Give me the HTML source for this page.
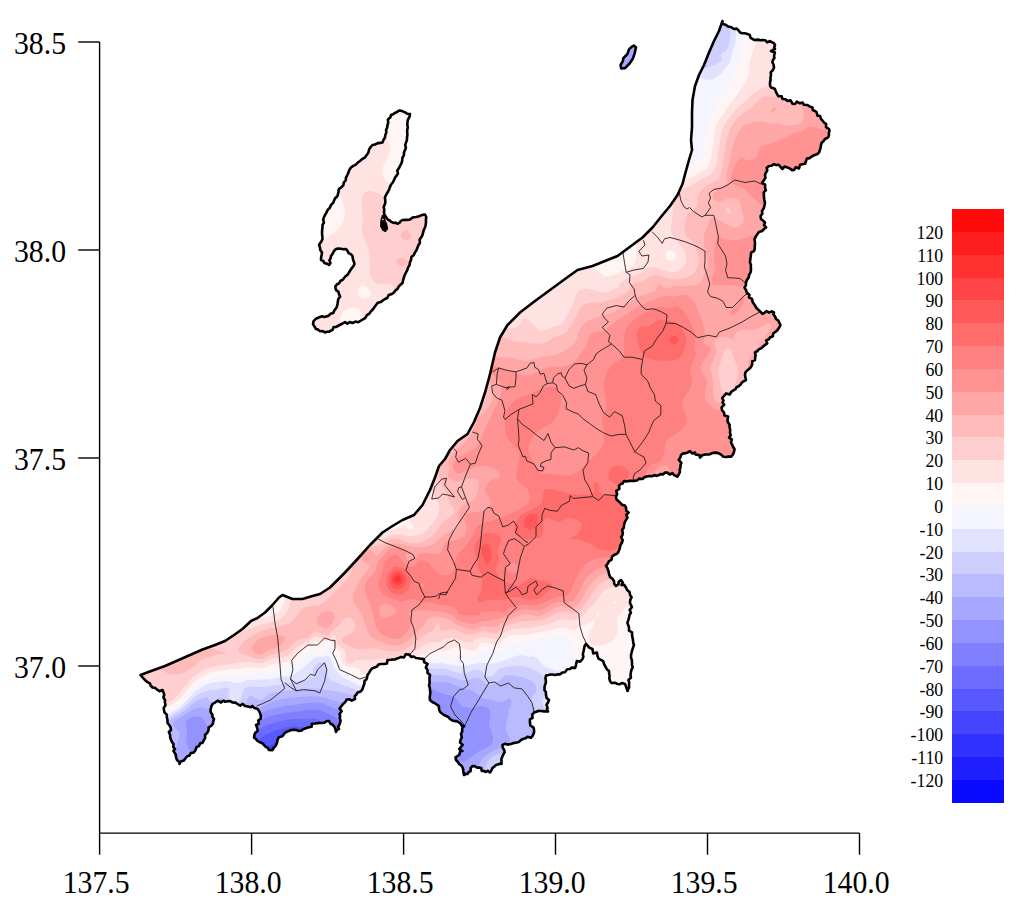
<!DOCTYPE html>
<html lang="en"><head><meta charset="utf-8"><title>Map</title>
<style>html,body{margin:0;padding:0;background:#fff}svg{display:block}text{font-family:"Liberation Serif","Times New Roman",serif;fill:#000}</style></head><body>
<svg width="1024" height="909" viewBox="0 0 1024 909">
<rect width="1024" height="909" fill="#fff"/>
<defs><clipPath id="land">
<path d="M722.5,21.0 L722.3,23.5 L726.0,25.0 L728.3,26.6 L731.4,27.3 L734.0,29.0 L736.8,28.6 L739.4,31.3 L740.0,32.5 L742.3,33.2 L744.8,33.2 L747.5,34.0 L749.7,34.9 L750.5,37.6 L752.5,39.0 L754.8,40.1 L758.1,39.6 L759.8,40.2 L762.5,40.0 L765.2,40.2 L767.2,42.4 L770.0,41.0 L772.1,42.4 L773.7,43.0 L775.0,45.0 L774.2,47.2 L775.0,49.0 L772.7,50.0 L771.0,51.0 L774.9,52.5 L774.0,56.0 L774.5,57.8 L772.7,60.5 L772.5,62.5 L773.5,64.5 L774.0,67.5 L773.0,70.0 L770.7,72.3 L771.0,75.0 L770.4,77.9 L770.6,79.7 L770.0,82.5 L770.0,85.3 L771.0,87.5 L772.8,88.0 L775.0,89.0 L775.5,90.7 L777.0,94.0 L778.5,96.2 L781.7,96.3 L782.5,99.0 L785.6,99.3 L787.5,101.0 L790.4,100.2 L792.6,103.7 L795.0,104.0 L796.9,101.6 L799.8,103.3 L802.5,102.5 L804.0,104.8 L807.5,105.0 L809.5,106.4 L812.5,107.5 L812.7,110.0 L815.0,111.0 L816.5,112.0 L817.5,115.6 L820.0,116.0 L821.0,118.9 L822.3,120.3 L824.0,122.5 L826.1,124.0 L826.0,127.2 L829.0,129.0 L829.5,130.9 L828.8,133.2 L829.0,135.0 L828.2,137.4 L825.0,139.0 L823.4,141.4 L821.7,142.7 L821.0,145.0 L820.6,147.7 L819.8,150.3 L819.0,152.5 L817.1,154.3 L814.5,155.0 L812.5,156.0 L809.5,158.1 L806.9,158.6 L806.0,161.0 L805.1,163.8 L802.1,164.2 L800.0,165.0 L799.0,168.5 L795.7,167.3 L794.0,170.0 L791.8,170.1 L789.5,168.2 L787.5,167.5 L784.5,166.5 L782.5,169.0 L780.6,167.0 L778.8,164.8 L776.0,165.0 L773.9,164.1 L771.6,165.8 L769.0,166.0 L766.7,167.8 L767.3,170.3 L766.0,172.5 L765.0,174.6 L765.4,177.9 L764.0,180.0 L762.1,182.7 L765.1,184.5 L765.0,187.5 L765.9,190.3 L763.7,192.4 L763.9,195.0 L764.0,197.5 L764.3,199.7 L765.0,203.0 L764.4,205.8 L763.7,208.4 L762.0,211.0 L762.4,213.6 L760.6,216.1 L761.0,219.0 L763.3,220.8 L765.0,222.5 L764.0,225.2 L766.1,227.4 L764.0,229.0 L762.1,231.0 L758.9,232.0 L757.5,234.0 L755.8,236.6 L754.5,239.2 L755.0,242.5 L754.8,245.6 L754.7,249.0 L754.0,251.0 L751.3,252.4 L751.0,254.0 L750.7,256.7 L750.2,259.9 L750.0,262.5 L750.9,264.7 L750.8,267.4 L751.0,269.0 L750.8,271.5 L750.3,272.9 L749.0,275.0 L748.8,277.3 L746.7,280.3 L746.0,282.5 L745.9,285.2 L744.5,287.6 L746.0,290.0 L746.8,292.5 L749.4,294.7 L749.0,297.5 L752.1,298.9 L752.6,302.1 L754.0,304.0 L755.0,305.4 L756.0,307.4 L757.5,309.0 L759.3,310.6 L760.9,312.2 L762.5,314.0 L764.4,312.8 L766.3,311.1 L769.0,312.5 L771.9,311.4 L774.0,312.5 L773.4,314.3 L775.2,316.8 L776.0,319.0 L778.4,320.6 L779.0,322.2 L780.5,325.0 L779.2,327.6 L777.5,330.0 L775.9,331.5 L773.2,333.5 L772.8,336.2 L770.0,337.5 L768.9,339.2 L766.2,340.4 L767.2,343.4 L765.0,345.0 L762.5,347.1 L761.3,348.2 L759.1,349.1 L757.5,351.0 L754.9,352.5 L755.6,355.4 L755.2,357.2 L755.0,360.0 L752.2,361.3 L752.2,364.2 L750.9,367.3 L749.0,369.0 L746.8,370.7 L745.3,372.6 L745.0,375.0 L745.5,377.8 L746.0,380.0 L743.9,381.1 L741.7,382.8 L740.7,384.3 L739.0,386.0 L736.4,387.3 L735.8,388.8 L734.0,390.0 L731.2,391.8 L729.7,394.5 L726.2,393.4 L724.0,396.0 L722.2,398.1 L723.5,400.5 L722.5,402.5 L724.2,404.6 L721.6,407.4 L722.0,410.2 L724.0,412.5 L724.4,415.4 L728.1,416.5 L727.5,420.0 L727.8,422.1 L729.7,424.9 L729.5,426.8 L730.2,430.2 L730.0,432.5 L730.7,435.3 L729.1,437.6 L731.7,439.4 L731.0,442.5 L732.3,444.9 L733.2,447.1 L734.5,449.0 L734.2,451.2 L733.6,453.0 L732.5,455.0 L731.2,456.6 L728.7,456.6 L726.0,457.0 L723.4,456.7 L721.0,454.6 L720.0,454.0 L717.8,452.9 L715.0,452.6 L712.5,453.0 L709.7,454.2 L708.7,454.5 L705.0,454.5 L702.3,455.3 L700.0,457.5 L699.4,455.1 L695.5,454.5 L695.0,452.5 L692.4,453.5 L690.0,451.2 L687.5,452.5 L685.3,453.4 L683.2,453.4 L681.0,455.0 L680.3,457.7 L678.7,459.8 L681.4,462.8 L680.5,465.0 L680.5,467.4 L679.6,469.9 L680.0,471.8 L679.0,474.0 L677.3,476.7 L674.0,475.0 L672.4,473.1 L669.8,474.5 L667.3,472.6 L665.0,472.5 L663.2,474.4 L660.7,474.1 L659.0,475.0 L656.2,475.9 L654.5,475.1 L652.4,476.2 L650.0,476.0 L647.3,476.2 L644.4,477.2 L642.5,479.0 L639.1,478.6 L637.5,480.2 L634.0,481.0 L631.2,480.7 L628.8,480.9 L626.6,481.4 L624.0,481.0 L622.6,483.6 L620.7,484.1 L619.0,486.0 L619.4,488.8 L616.2,490.8 L617.2,494.2 L616.0,496.0 L616.4,499.1 L618.3,501.1 L620.0,502.5 L621.9,504.7 L624.9,505.6 L626.0,507.5 L626.3,510.8 L628.6,512.5 L626.2,515.0 L627.5,517.5 L625.9,520.1 L624.8,522.1 L624.0,525.0 L623.7,527.9 L622.1,529.9 L622.8,532.6 L622.5,535.0 L621.2,536.9 L622.7,540.3 L622.0,542.5 L620.4,545.2 L620.0,547.5 L619.1,550.2 L618.1,552.4 L616.9,553.7 L614.0,555.0 L612.0,556.7 L611.5,559.7 L608.9,561.3 L607.4,564.1 L606.0,566.0 L607.5,568.3 L608.6,571.6 L609.0,574.0 L610.2,577.2 L612.3,578.6 L614.0,581.0 L614.2,583.7 L616.0,586.0 L618.4,584.3 L618.8,581.6 L621.0,580.0 L622.7,582.3 L621.5,585.0 L624.3,584.9 L626.0,587.5 L627.2,590.1 L629.7,592.3 L630.0,595.0 L631.6,597.3 L630.3,599.6 L630.0,603.0 L631.0,605.0 L631.9,607.2 L629.7,609.9 L630.9,612.6 L629.5,615.0 L629.0,617.5 L628.3,620.1 L627.4,623.0 L628.4,625.4 L629.0,627.5 L629.0,630.7 L632.1,632.4 L632.0,635.0 L632.6,638.1 L633.0,640.2 L633.3,643.2 L634.0,645.0 L633.1,647.4 L632.3,649.8 L631.6,652.5 L631.0,655.0 L631.1,658.2 L631.9,660.0 L632.0,662.7 L632.0,665.0 L632.7,667.4 L631.3,670.2 L630.9,672.3 L630.5,675.0 L630.9,677.8 L628.4,679.9 L629.2,682.6 L629.0,685.0 L629.1,687.6 L627.5,690.0 L626.4,688.0 L626.0,686.4 L625.0,684.0 L621.9,683.0 L619.9,684.2 L617.5,684.0 L614.8,682.7 L611.5,683.0 L610.0,681.0 L609.3,678.1 L609.6,676.1 L609.1,673.2 L609.0,671.0 L606.8,669.2 L605.7,667.1 L604.0,664.0 L603.2,661.1 L600.5,659.7 L598.5,658.6 L597.5,656.0 L596.9,652.5 L593.2,653.5 L592.5,649.0 L589.5,647.8 L588.0,646.1 L586.0,644.0 L584.6,646.0 L584.0,649.0 L583.4,651.8 L582.8,654.1 L583.4,656.8 L582.5,659.0 L580.2,661.6 L576.8,661.1 L576.0,665.0 L575.2,667.9 L571.5,667.6 L570.0,669.0 L567.3,669.2 L564.9,672.2 L562.5,672.5 L559.9,674.4 L557.3,674.4 L555.0,675.0 L552.4,674.5 L550.8,674.5 L548.2,675.1 L546.0,675.5 L545.4,678.3 L545.8,680.0 L545.9,682.6 L545.0,685.0 L544.5,687.3 L544.5,690.2 L545.9,692.0 L546.0,695.0 L546.5,697.8 L549.0,700.0 L548.0,702.5 L546.5,704.9 L547.6,707.9 L546.9,708.9 L548.0,711.5 L545.7,711.4 L544.2,711.4 L541.0,711.0 L538.7,710.8 L536.4,711.8 L534.0,712.5 L532.3,714.6 L532.6,717.9 L529.9,719.4 L530.0,722.5 L530.3,725.5 L533.4,727.4 L534.0,729.5 L534.1,732.2 L533.4,734.1 L532.5,736.0 L530.8,737.8 L527.5,736.7 L525.7,738.3 L523.6,738.7 L521.0,740.0 L518.9,741.9 L516.5,742.6 L513.6,743.0 L511.0,744.0 L507.6,744.6 L504.8,743.8 L502.5,745.0 L502.6,747.3 L504.1,749.8 L504.7,752.2 L503.0,755.0 L501.9,757.7 L501.4,759.1 L501.5,761.4 L501.5,764.0 L499.2,763.9 L496.1,764.9 L495.0,766.0 L492.2,768.3 L491.6,770.1 L490.0,772.5 L487.7,770.7 L485.9,772.0 L484.0,771.0 L481.7,770.9 L481.2,768.0 L479.0,767.5 L477.2,767.6 L474.5,766.1 L472.5,766.0 L470.7,767.8 L470.6,771.1 L468.8,772.0 L467.5,774.0 L466.3,773.7 L464.0,775.0 L463.5,772.6 L463.2,769.5 L462.5,767.5 L461.6,765.8 L459.0,763.9 L458.0,762.1 L456.0,760.0 L455.4,757.3 L457.5,756.0 L459.4,754.6 L460.2,751.1 L462.5,751.0 L459.2,749.0 L462.7,744.9 L460.0,742.5 L460.5,740.1 L461.8,737.4 L461.0,734.0 L462.2,731.4 L462.2,728.0 L464.0,726.0 L461.8,726.0 L460.8,723.8 L459.0,722.5 L456.6,721.1 L454.6,721.1 L452.2,720.4 L450.0,719.0 L448.5,717.1 L446.2,716.0 L444.0,715.0 L441.6,713.2 L439.9,711.6 L439.0,709.0 L438.9,706.1 L436.0,704.0 L434.4,703.0 L432.2,702.0 L430.0,700.0 L429.7,697.7 L430.1,694.4 L430.3,692.3 L430.0,690.0 L429.8,687.6 L429.0,685.7 L429.7,681.9 L429.5,680.0 L429.5,677.6 L430.0,674.9 L427.5,673.0 L427.5,670.0 L425.8,667.6 L427.5,664.0 L424.1,662.2 L424.0,659.0 L421.9,658.9 L418.4,658.2 L416.0,658.0 L413.6,656.5 L411.4,657.0 L409.0,654.5 L405.6,654.3 L404.0,657.5 L401.0,657.0 L398.8,657.9 L397.1,658.4 L395.0,659.5 L392.4,659.5 L390.7,659.8 L387.5,660.0 L387.0,663.5 L383.9,664.0 L381.0,664.0 L378.4,664.6 L376.8,666.6 L374.5,667.5 L372.1,668.4 L370.1,670.8 L369.0,673.0 L367.4,675.3 L367.1,677.6 L366.5,679.2 L364.5,681.0 L364.3,684.1 L363.3,686.6 L362.3,689.6 L360.5,691.5 L357.7,692.5 L356.4,694.5 L354.8,696.0 L355.0,699.0 L351.7,700.6 L349.7,699.4 L346.5,699.5 L345.7,701.6 L343.5,703.6 L341.5,706.0 L339.5,708.6 L341.7,711.2 L339.5,714.0 L340.1,715.5 L339.8,718.5 L340.6,720.5 L340.0,723.0 L339.1,725.4 L338.0,726.8 L339.0,729.0 L337.1,729.8 L336.0,732.0 L335.5,729.8 L334.8,727.5 L333.0,725.0 L330.4,723.6 L329.0,721.0 L326.9,721.0 L324.1,722.8 L321.5,723.0 L319.6,722.9 L317.3,723.2 L315.0,723.5 L311.9,723.8 L311.6,726.8 L308.0,727.5 L305.3,728.4 L303.1,729.2 L301.9,730.4 L299.0,731.0 L296.4,730.0 L294.2,729.8 L291.0,730.0 L288.8,731.1 L286.2,731.9 L284.0,734.0 L282.4,736.3 L278.9,737.2 L277.5,740.0 L277.1,742.5 L275.8,745.9 L274.0,747.5 L272.5,750.1 L269.0,750.0 L267.4,747.6 L265.4,746.6 L264.0,745.0 L261.9,742.9 L259.2,742.0 L257.5,741.0 L255.5,738.7 L254.0,737.5 L254.5,734.6 L255.1,733.1 L257.5,731.0 L257.5,729.2 L257.0,727.3 L256.0,725.0 L258.7,723.9 L258.3,720.3 L260.5,719.0 L260.9,716.4 L259.9,712.8 L259.0,711.0 L257.3,708.7 L254.2,707.9 L252.5,706.0 L251.1,707.3 L247.9,706.6 L245.0,706.0 L242.8,703.8 L240.2,705.6 L237.5,704.0 L235.4,702.6 L232.3,702.4 L230.0,701.0 L227.7,701.3 L225.0,701.7 L223.6,700.5 L221.0,702.5 L217.7,700.7 L215.4,702.3 L212.5,704.0 L211.5,706.0 L210.9,708.3 L210.5,710.0 L210.7,712.2 L212.4,714.8 L212.5,716.9 L214.0,719.0 L213.2,721.4 L213.0,723.6 L211.0,726.0 L208.6,727.4 L208.6,730.0 L207.5,732.5 L204.9,735.1 L205.2,737.7 L204.0,740.0 L202.4,742.9 L200.2,743.2 L199.0,746.0 L196.6,747.0 L195.9,749.2 L195.0,751.0 L193.6,752.6 L190.9,753.0 L189.2,755.8 L187.5,756.0 L185.7,758.0 L183.7,760.6 L180.8,761.4 L179.5,764.0 L179.3,761.9 L177.0,759.9 L176.0,757.5 L175.7,754.5 L173.4,750.9 L175.0,749.0 L173.3,746.9 L173.6,743.9 L172.7,743.1 L171.0,740.0 L170.1,737.2 L170.2,735.4 L168.9,732.0 L171.0,730.0 L170.7,727.6 L169.2,725.0 L167.5,722.9 L167.5,720.0 L166.8,717.2 L166.8,714.6 L164.5,712.5 L164.0,710.0 L163.7,707.9 L165.5,705.2 L164.9,702.3 L165.0,700.0 L163.4,697.5 L164.2,694.9 L163.6,692.7 L162.5,690.0 L159.6,691.3 L157.0,689.5 L155.2,687.9 L152.5,687.5 L150.6,685.5 L149.9,683.4 L148.0,682.4 L146.0,681.0 L143.9,678.9 L142.2,677.0 L140.5,675.0 L152.5,670.5 L165.0,666.0 L177.5,660.5 L190.0,655.0 L202.5,649.5 L215.0,645.0 L225.0,641.0 L234.0,635.0 L242.5,629.0 L251.0,621.0 L257.5,618.0 L265.0,612.5 L272.5,605.0 L279.0,597.5 L282.5,595.0 L292.5,599.0 L302.5,599.0 L312.5,596.0 L320.0,594.0 L330.0,587.5 L332.5,585.0 L345.0,572.5 L357.5,559.0 L370.0,545.0 L382.5,532.5 L392.5,526.0 L402.5,520.0 L414.0,515.0 L422.5,505.0 L430.0,490.0 L435.0,477.5 L439.0,466.0 L445.0,459.0 L450.0,450.0 L457.5,441.0 L467.5,434.0 L474.0,422.0 L480.0,408.0 L485.0,392.5 L489.0,378.0 L491.0,370.0 L495.0,352.5 L500.0,337.5 L507.5,325.0 L520.0,312.5 L535.0,301.0 L550.0,290.0 L565.0,279.0 L577.5,270.0 L592.5,266.0 L605.0,261.0 L617.5,256.0 L629.0,247.5 L642.5,237.5 L652.5,227.5 L662.5,215.0 L670.0,206.0 L677.5,195.0 L682.5,184.0 L685.5,172.5 L689.0,160.0 L692.0,150.0 L691.0,140.0 L692.0,127.5 L692.0,112.5 L692.5,100.0 L695.0,86.0 L699.0,75.0 L704.0,65.0 L709.0,52.5 L714.0,41.0 L719.0,31.0Z"/>
<path d="M399.0,110.5 L401.6,110.9 L404.6,112.1 L407.1,113.7 L410.0,114.0 L409.5,116.8 L407.8,119.9 L407.5,122.5 L407.3,124.7 L407.8,127.9 L407.2,129.6 L407.2,132.2 L407.4,134.9 L407.0,137.5 L406.9,140.2 L406.1,142.4 L405.2,145.1 L405.9,147.6 L405.0,150.1 L404.0,152.5 L403.9,155.4 L402.4,157.8 L402.2,160.7 L401.5,163.2 L400.0,166.0 L399.0,168.1 L397.3,170.6 L398.0,173.5 L396.6,175.6 L395.2,177.3 L394.0,180.0 L392.8,182.5 L391.1,184.5 L389.9,187.1 L389.0,189.9 L387.5,192.5 L386.1,194.9 L385.0,197.3 L385.2,200.1 L385.4,202.6 L384.5,205.0 L383.7,207.3 L384.3,209.7 L384.0,212.0 L384.3,214.5 L386.0,216.9 L387.6,219.4 L389.6,220.5 L391.5,222.0 L394.2,222.9 L395.7,222.6 L397.3,223.8 L399.3,222.9 L400.8,221.0 L402.5,220.0 L405.0,219.8 L407.3,219.9 L410.0,219.5 L411.9,218.0 L413.7,217.3 L416.0,217.0 L418.2,216.4 L420.8,215.6 L422.4,214.9 L425.0,214.5 L426.3,217.0 L425.9,219.9 L426.0,222.5 L425.6,225.0 L425.0,227.5 L423.8,229.9 L423.0,232.9 L422.5,235.0 L421.4,237.1 L419.6,239.7 L419.9,242.9 L418.5,244.9 L417.5,247.5 L416.6,250.0 L414.8,252.7 L413.7,255.2 L411.5,256.8 L411.0,260.0 L409.9,262.4 L409.6,265.0 L408.0,267.6 L407.3,270.1 L406.0,272.5 L404.7,275.1 L403.8,277.7 L403.0,280.7 L402.5,283.0 L400.5,284.7 L398.9,286.4 L397.4,289.0 L395.2,290.6 L394.0,292.5 L392.0,293.9 L388.7,295.0 L387.3,298.0 L385.0,299.0 L383.1,300.3 L380.7,302.1 L377.9,302.7 L376.0,305.0 L374.4,307.3 L372.8,309.5 L370.5,311.9 L369.0,314.0 L366.9,315.2 L365.4,317.8 L363.4,319.1 L361.0,320.5 L358.0,322.3 L355.4,321.6 L352.5,323.0 L349.8,322.1 L347.4,323.7 L345.0,322.0 L342.7,323.5 L340.6,324.5 L337.9,326.0 L336.0,327.0 L333.7,327.1 L332.5,330.1 L331.0,330.5 L329.3,331.6 L326.9,331.8 L325.0,332.5 L322.9,331.1 L320.2,331.2 L317.9,329.6 L316.0,329.0 L314.6,326.8 L313.0,324.0 L313.6,321.2 L315.0,319.5 L317.0,318.2 L320.0,317.0 L322.2,316.3 L324.4,316.9 L327.0,316.2 L329.0,315.5 L330.4,313.7 L333.3,313.0 L334.0,311.0 L335.6,308.8 L336.9,306.6 L337.5,304.0 L337.8,301.7 L338.3,299.0 L340.1,296.8 L339.0,294.0 L338.3,291.7 L336.5,290.5 L335.6,289.0 L335.4,286.1 L337.5,284.0 L339.0,283.4 L340.6,280.7 L342.5,280.0 L343.9,278.2 L345.5,276.2 L347.7,274.6 L349.0,272.5 L350.2,270.4 L351.9,268.0 L353.4,266.1 L354.5,264.0 L353.8,261.6 L352.8,258.6 L352.5,256.0 L351.1,254.4 L348.6,253.1 L347.5,250.9 L346.0,249.0 L343.4,249.2 L340.8,248.8 L338.2,248.5 L336.0,249.0 L334.0,251.0 L332.6,253.8 L331.0,256.0 L330.6,258.4 L329.4,260.2 L330.4,263.2 L329.0,265.0 L326.9,263.7 L324.3,262.9 L323.2,260.9 L321.0,260.0 L321.1,257.4 L321.6,255.0 L322.0,252.5 L320.3,250.0 L320.0,247.5 L319.0,245.0 L319.9,243.5 L321.5,241.2 L322.5,239.0 L322.3,236.1 L322.0,233.1 L322.1,230.6 L322.5,227.5 L322.5,224.9 L323.9,222.7 L323.2,219.6 L324.0,217.1 L325.0,215.0 L326.4,212.6 L327.8,209.7 L329.9,207.8 L331.0,205.0 L333.3,202.7 L334.0,200.6 L335.2,198.2 L337.5,196.0 L338.0,193.9 L338.6,191.4 L338.7,189.3 L341.0,187.5 L343.3,185.3 L343.8,182.5 L345.7,180.3 L346.0,177.5 L347.2,175.3 L348.4,172.6 L349.3,170.0 L351.0,167.5 L353.2,165.9 L355.5,164.8 L358.0,162.3 L360.0,161.0 L362.1,159.1 L364.4,157.8 L365.7,156.3 L367.5,154.0 L368.6,151.8 L369.2,149.2 L370.5,147.2 L372.5,145.0 L375.0,144.5 L377.2,143.4 L379.8,142.9 L382.5,142.5 L383.5,139.9 L385.0,137.5 L385.3,134.9 L386.3,132.5 L386.1,130.1 L387.2,127.6 L387.5,125.0 L388.2,123.0 L387.9,119.4 L390.4,117.3 L391.0,115.0 L393.2,114.2 L394.7,112.9 L397.1,112.1Z"/>
<path d="M633.8,45.6 L636.0,47.2 L634.7,53.1 L632.8,58.8 L629.4,63.8 L625.0,68.1 L621.2,68.4 L620.6,65.0 L622.8,61.2 L623.4,58.1 L627.5,53.8 L629.0,49.4 L631.9,46.6Z"/>
</clipPath></defs>
<g clip-path="url(#land)"><g fill-rule="evenodd"><rect x="135" y="15" width="700" height="765" fill="#fff5f5"/>
<path fill="#ffe2e2" d="M767.8,15.0 835.5,15.0 835.5,780.0 673.1,780.0 676.4,763.5 679.1,745.5 684.4,693.0 685.1,681.0 685.1,672.0 684.4,663.0 683.0,655.5 680.3,646.5 676.9,639.0 672.1,631.5 665.5,624.0 658.3,618.0 653.8,615.0 648.2,612.0 639.0,608.5 631.5,607.1 628.5,607.0 625.5,607.8 624.0,609.1 622.0,612.0 618.1,616.5 617.3,618.0 617.1,619.5 617.9,627.0 617.8,630.0 617.2,633.0 616.0,636.0 614.0,639.0 612.0,641.0 609.0,642.9 604.5,644.6 598.5,645.7 594.0,645.6 591.0,644.2 589.5,642.6 588.5,640.5 588.0,637.5 588.6,634.5 589.9,631.5 594.0,624.8 595.0,622.5 595.2,621.0 594.0,620.3 589.5,623.4 579.0,626.6 576.0,629.5 574.5,630.3 573.0,630.3 565.5,627.8 561.0,627.4 558.0,628.0 552.0,630.1 540.0,631.9 528.0,634.8 516.0,634.5 511.5,635.1 507.0,637.1 501.0,642.3 498.0,643.9 493.5,644.4 484.5,642.6 481.5,642.9 480.0,643.6 478.0,648.0 477.0,648.9 475.5,649.8 472.5,650.7 468.0,650.2 460.5,647.5 457.5,646.9 454.5,647.3 448.5,650.4 447.0,650.7 442.5,650.5 433.5,649.1 432.0,649.5 426.0,653.4 415.5,656.6 400.5,662.4 385.5,667.4 372.0,673.3 367.5,674.4 364.5,674.1 363.4,673.5 358.5,669.0 355.7,667.5 348.0,667.0 345.7,666.0 343.7,664.5 342.5,663.0 341.4,660.0 341.1,654.0 340.6,652.5 336.0,647.5 333.0,642.4 331.5,640.9 330.0,640.4 328.5,640.3 321.0,642.2 315.0,641.8 310.5,644.1 300.0,651.0 293.3,658.5 291.0,660.0 288.0,661.2 283.5,662.5 273.0,664.2 265.5,666.9 262.5,667.6 258.0,667.9 247.5,667.3 237.0,668.9 229.5,669.4 210.0,672.3 199.5,678.1 193.5,682.6 190.4,685.5 184.0,694.5 181.5,697.4 177.0,701.4 171.0,705.5 162.0,708.4 145.5,712.3 135.0,715.2 135.0,593.3 154.5,596.5 174.0,601.2 190.5,606.7 220.5,618.4 231.0,621.2 237.0,621.7 243.0,621.3 270.0,616.0 273.0,615.1 276.0,613.6 279.0,611.2 280.9,609.0 283.2,604.5 285.2,597.0 286.9,592.5 289.5,587.8 292.5,584.0 297.0,579.6 314.3,565.5 319.5,560.3 332.5,546.0 337.5,541.5 341.7,538.5 349.5,534.8 357.0,533.1 364.5,533.1 376.5,534.7 381.0,534.5 390.0,531.2 399.0,527.1 403.5,525.7 405.0,525.9 409.5,529.1 411.0,529.4 412.5,528.2 413.1,526.5 412.8,525.0 409.8,522.0 409.6,520.5 410.2,510.0 411.6,504.0 415.5,492.0 419.4,472.5 422.4,462.0 426.5,451.5 431.0,442.5 438.8,429.0 455.4,402.0 458.1,396.0 458.7,393.0 458.6,390.0 453.7,370.5 453.0,364.5 452.9,358.5 453.9,351.0 455.7,345.0 458.3,339.0 461.9,333.0 468.5,325.5 472.5,322.1 477.0,319.0 481.5,316.7 487.5,314.4 502.5,311.4 507.0,309.5 521.5,298.5 533.5,288.0 538.5,285.0 544.5,282.4 567.0,274.6 579.0,269.1 585.0,267.3 589.5,267.2 592.5,267.9 596.4,270.0 603.0,275.6 604.5,276.2 607.5,276.6 612.0,275.7 627.0,269.2 630.0,267.7 633.0,265.5 635.0,262.5 635.8,259.5 636.7,253.5 636.8,243.0 637.5,239.4 639.0,235.2 642.0,229.1 651.0,213.0 664.4,193.5 668.3,189.0 673.5,184.9 678.0,182.7 686.9,180.0 688.5,179.1 705.1,169.5 706.8,168.0 708.8,165.0 711.2,157.5 714.3,133.5 716.7,124.5 718.5,121.0 726.0,109.2 736.3,96.0 746.2,81.0 748.3,75.0 750.0,60.6 751.5,54.4 756.8,42.0 759.0,34.4 761.2,28.5 767.8,15.0ZM549.0,303.8 549.0,304.6 550.5,305.0 550.8,304.5 550.5,303.6 549.0,303.8ZM598.5,611.8 596.8,613.5 596.6,615.0 597.0,616.7 598.5,615.1 599.3,613.5 598.9,612.0 598.5,611.8ZM615.0,601.3 613.4,603.0 615.0,604.1 616.9,603.0 616.5,602.0 615.0,601.3ZM669.0,250.3 667.5,250.7 666.0,252.2 665.4,255.0 665.6,258.0 666.7,259.5 669.0,260.4 672.0,260.5 673.5,260.1 675.4,258.0 675.6,256.5 675.0,252.9 673.5,251.0 672.0,250.5 669.0,250.3Z"/>
<path fill="#ffcece" d="M795.8,15.0 835.5,15.0 835.5,780.0 734.2,780.0 738.0,756.0 740.2,735.0 741.0,716.0 740.5,699.0 738.5,682.5 735.2,667.5 730.5,654.0 727.2,646.5 724.0,640.5 717.0,630.0 712.1,624.0 707.8,619.5 702.8,615.0 697.5,610.9 687.0,604.4 675.0,599.0 663.0,595.1 648.0,591.7 621.0,586.9 616.5,586.6 612.0,586.9 608.2,588.0 605.5,589.5 601.5,593.5 595.5,601.8 585.0,613.3 580.5,617.0 576.0,619.4 570.0,620.1 564.0,619.3 561.0,619.5 558.0,620.2 549.0,623.9 540.0,626.1 528.0,627.9 517.5,628.3 510.0,629.5 505.5,631.4 504.0,632.6 499.5,637.5 496.5,639.0 493.5,639.0 486.0,637.1 483.0,636.8 478.5,638.0 472.5,641.6 469.5,642.6 466.5,642.2 456.0,638.5 451.5,638.0 447.0,638.3 444.7,639.0 439.5,642.3 438.0,642.5 432.0,642.1 427.5,643.0 424.5,644.5 418.5,648.7 414.5,651.0 406.5,654.5 399.0,656.9 391.5,658.3 378.0,658.9 366.0,660.6 357.0,659.8 355.5,660.0 352.6,663.0 349.5,664.1 347.0,663.0 346.0,661.5 345.6,658.5 345.9,654.0 345.0,651.0 343.9,649.5 339.0,645.9 337.5,644.1 336.6,642.0 335.8,637.5 335.3,636.0 334.5,635.2 333.0,635.2 331.3,637.5 330.0,638.2 328.5,638.4 324.0,638.1 318.0,636.5 315.0,636.2 313.5,636.7 310.5,639.8 309.0,640.9 298.0,646.5 295.5,648.6 289.5,655.2 286.5,656.5 271.5,658.8 264.0,662.4 261.0,663.1 256.5,663.1 249.0,661.5 241.5,661.9 229.5,664.3 217.5,665.8 207.0,668.7 204.0,669.9 199.5,672.6 192.0,678.0 189.2,681.0 187.2,684.0 183.0,688.4 180.0,693.0 177.3,696.0 172.5,700.2 168.0,702.3 165.0,703.0 160.5,703.0 135.0,700.2 135.0,617.6 145.5,617.1 154.5,617.1 163.5,617.7 172.5,618.8 181.5,620.5 190.5,622.7 226.5,633.9 232.5,634.5 237.0,633.7 259.5,625.1 276.0,621.0 279.0,619.7 282.0,617.9 285.0,615.0 287.1,612.0 288.4,609.0 290.8,600.0 292.5,597.0 294.0,595.2 297.0,592.7 300.0,590.9 315.0,585.6 318.6,583.5 322.5,580.4 327.0,576.0 331.9,570.0 334.8,565.5 341.0,553.5 344.2,549.0 348.0,545.1 352.5,542.1 357.0,540.3 363.0,539.3 367.5,539.4 376.5,540.5 381.0,540.1 384.0,538.9 388.5,535.9 394.5,534.5 400.5,534.5 409.5,536.5 417.0,535.5 421.5,534.0 424.5,531.9 427.5,529.1 433.5,522.2 436.5,517.9 438.1,514.5 439.0,510.0 439.0,507.0 438.3,504.0 432.0,490.5 430.8,486.0 430.1,481.5 430.0,475.5 430.5,471.0 431.5,466.5 434.0,459.0 437.2,451.5 440.4,445.5 459.9,415.5 466.2,408.0 474.6,400.5 476.6,397.5 476.9,394.5 476.0,391.5 474.5,388.5 468.7,379.5 465.8,373.5 464.3,367.5 463.9,361.5 465.1,354.0 468.0,347.3 472.5,341.0 478.5,335.3 486.0,330.2 489.9,328.5 493.5,327.5 499.5,327.1 510.0,328.4 513.0,328.3 516.0,327.5 518.9,325.5 520.0,324.0 521.7,319.5 523.5,318.6 526.5,319.0 529.5,320.7 535.4,327.0 539.3,330.0 541.5,330.8 544.5,330.5 550.5,327.7 559.5,325.0 561.5,324.0 563.2,322.5 567.8,313.5 573.0,304.7 574.6,298.5 576.0,295.0 579.0,291.1 581.4,289.5 583.5,288.9 586.5,288.8 601.5,291.9 606.0,292.2 609.0,291.8 615.0,288.6 619.5,287.3 619.9,286.5 619.5,285.5 618.8,285.0 618.8,283.5 621.0,282.5 625.8,279.0 630.0,277.0 640.9,273.0 646.5,268.8 649.5,267.2 651.0,267.0 655.5,267.7 661.5,269.7 672.0,272.3 675.0,272.0 678.0,270.9 681.0,269.1 683.5,267.0 685.3,264.0 686.1,261.0 686.2,258.0 685.3,253.5 683.4,249.0 681.5,246.0 674.0,238.5 672.0,234.0 671.0,229.5 671.1,225.0 672.4,217.5 673.0,205.5 674.0,201.0 675.6,196.5 678.0,192.7 681.0,190.2 691.5,185.6 700.5,179.4 709.5,175.3 712.9,172.5 714.7,169.5 716.6,163.5 720.5,138.0 722.2,130.5 724.8,124.5 729.5,117.0 735.0,110.4 750.0,96.6 760.5,88.8 763.5,87.5 769.5,85.8 772.5,84.1 774.2,82.5 776.6,79.5 780.1,72.0 783.0,62.1 784.7,54.0 786.6,40.5 788.4,33.0 791.6,24.0 795.8,15.0Z"/>
<path fill="#ffbaba" d="M829.2,15.0 835.5,15.0 835.5,780.0 790.4,780.0 791.6,759.0 791.8,741.0 791.0,723.0 789.3,706.5 786.4,690.0 782.7,675.0 778.1,661.5 772.3,648.0 765.9,636.0 757.8,624.0 749.1,613.5 739.5,604.3 729.0,596.2 718.5,590.0 706.5,584.8 694.5,581.4 682.5,579.4 669.0,578.6 619.5,578.2 613.5,578.4 609.0,579.2 603.0,581.4 598.5,584.9 595.5,588.6 586.0,603.0 582.5,607.5 579.0,610.8 574.0,613.5 571.5,614.1 568.5,611.9 561.0,611.7 556.5,613.2 547.5,618.2 543.0,619.9 535.5,621.0 525.0,621.1 517.5,622.5 505.5,626.0 502.5,628.1 498.0,632.6 495.0,633.6 492.0,633.3 486.0,631.6 483.0,631.2 480.0,631.7 474.0,634.3 469.5,634.8 465.0,633.9 457.5,630.7 453.0,629.6 447.0,629.4 442.5,630.3 441.3,630.0 440.0,628.5 439.5,624.8 438.0,623.1 436.5,623.8 434.3,628.5 431.3,631.5 420.0,637.8 410.1,646.5 404.4,649.5 397.5,651.4 390.0,651.6 376.5,648.6 370.5,648.6 361.5,649.1 357.0,648.9 354.0,648.1 348.0,644.8 342.0,642.3 341.6,642.0 341.5,640.5 342.3,639.0 345.0,636.7 351.7,633.0 354.0,630.3 354.8,628.5 355.2,627.0 355.0,624.0 353.8,621.0 352.5,619.4 351.0,618.3 348.0,617.5 345.0,618.4 343.5,619.6 337.5,626.8 331.5,631.1 330.1,633.0 328.7,636.0 327.0,635.8 318.0,632.1 315.0,631.8 313.5,632.2 312.0,633.3 309.0,637.0 307.5,637.7 300.0,639.4 295.5,641.6 288.0,648.8 285.0,650.9 280.5,652.5 271.5,654.5 262.5,658.7 259.5,659.2 256.5,658.9 244.5,654.8 239.8,652.5 238.5,651.0 238.4,649.5 239.8,646.5 245.0,640.5 251.4,636.0 258.0,632.4 263.8,630.0 280.5,626.2 288.0,623.6 291.0,621.9 293.9,619.5 296.5,616.5 301.4,609.0 303.0,607.9 306.0,607.0 319.5,605.0 323.1,603.0 326.7,600.0 343.5,583.2 349.6,576.0 351.1,573.0 351.8,570.0 351.4,559.5 352.1,555.0 354.4,550.5 357.6,547.5 361.5,545.5 366.0,544.7 369.0,544.8 375.0,545.9 378.0,545.8 384.0,543.3 390.0,539.5 393.0,538.8 396.0,538.8 400.5,539.5 411.0,543.4 420.0,542.5 423.0,541.7 426.6,540.0 430.9,537.0 436.5,530.9 442.5,522.0 444.0,520.8 450.0,517.6 451.5,516.2 454.5,511.7 454.6,510.0 453.0,507.5 450.4,505.5 450.0,504.8 447.3,495.0 442.5,486.3 440.4,481.5 439.1,477.0 439.1,472.5 443.3,457.5 447.0,450.4 458.9,435.0 467.6,420.0 470.6,415.5 474.0,411.9 482.3,405.0 484.5,402.3 485.4,400.5 486.2,397.5 486.3,394.5 485.1,388.5 482.8,384.0 476.0,375.0 474.6,372.0 473.5,367.5 473.5,363.0 474.6,358.5 477.0,354.3 480.0,351.1 484.5,348.3 493.5,345.7 494.9,345.0 498.6,339.0 501.0,337.3 503.4,337.5 510.0,340.1 514.5,341.3 534.0,343.8 540.0,343.8 546.0,342.4 549.0,341.0 555.0,337.1 562.9,334.5 566.9,331.5 568.5,329.5 576.4,316.5 580.8,307.5 582.0,306.0 585.0,304.0 589.5,302.9 601.5,302.2 613.5,299.1 620.8,295.5 625.0,294.0 627.4,292.5 629.8,289.5 630.6,286.5 631.5,284.8 634.2,283.5 642.0,281.0 652.5,275.6 655.5,274.9 658.5,275.0 669.0,279.0 675.0,279.4 682.5,278.5 687.0,277.4 691.5,275.2 694.1,273.0 696.2,270.0 698.2,265.5 698.8,262.5 698.6,258.0 697.0,252.0 694.5,245.1 691.5,241.0 687.0,236.5 685.4,234.0 684.8,231.0 684.6,228.0 685.6,219.0 686.7,216.0 688.5,213.3 694.5,208.8 696.0,207.2 697.0,205.5 697.5,202.5 697.2,198.0 697.5,196.5 700.0,192.0 705.0,187.0 709.0,184.5 717.0,180.5 718.5,179.3 720.0,177.2 722.7,165.0 726.6,139.5 728.4,133.5 731.0,127.5 734.7,121.5 737.3,118.5 750.2,108.0 762.0,97.6 765.0,96.6 774.0,96.9 778.4,96.0 783.7,93.0 790.1,87.0 798.2,76.5 805.5,64.5 810.7,54.0 821.5,30.0 829.2,15.0ZM726.0,208.3 725.5,210.0 726.2,211.5 727.9,213.0 729.0,213.4 729.6,213.0 730.6,211.5 730.6,210.0 729.7,208.5 729.0,207.9 727.5,207.7 726.0,208.3ZM726.0,348.8 724.2,351.0 720.0,363.7 718.7,369.0 718.5,373.5 721.0,388.5 721.8,391.5 723.0,393.3 724.5,394.3 727.5,394.7 729.0,394.4 730.5,393.5 732.0,391.9 733.0,390.0 737.7,376.5 738.0,372.0 736.5,364.6 733.4,357.0 731.7,351.0 730.7,349.5 729.0,348.2 727.5,348.2 726.0,348.8ZM685.4,199.5 685.5,198.0 687.0,198.2 687.3,199.5 687.0,199.8 685.4,199.5ZM168.9,642.0 174.0,641.3 178.5,641.1 187.5,642.2 204.0,647.1 215.2,649.5 222.0,652.1 225.0,652.6 225.7,654.0 225.0,654.3 222.0,654.1 217.5,654.6 202.5,658.9 201.0,659.6 200.0,661.5 198.5,663.0 184.5,672.5 181.5,673.8 178.5,674.4 174.0,674.8 171.0,674.5 168.0,673.6 165.0,672.0 158.4,667.5 154.5,663.0 153.1,660.0 152.5,657.0 153.3,652.5 155.2,649.5 156.6,648.0 162.0,644.4 168.9,642.0Z"/>
<path fill="#ffa7a7" d="M835.3,66.0 835.5,65.7 835.5,700.9 832.2,687.0 828.2,673.5 823.4,660.0 818.2,648.0 812.2,636.0 805.5,624.6 798.0,613.6 790.5,604.2 782.6,595.5 773.0,586.5 763.5,579.0 753.0,572.0 742.5,566.4 732.0,562.0 721.5,558.8 712.5,557.1 700.5,556.3 688.5,557.3 678.0,559.3 654.0,565.5 643.5,567.8 631.5,569.7 613.5,571.7 606.0,573.1 601.5,574.8 598.5,576.4 593.6,580.5 589.1,586.5 580.4,601.5 577.5,605.0 574.5,607.3 573.0,607.9 570.0,608.4 568.5,608.2 562.5,606.1 559.5,606.2 555.0,607.9 544.5,614.3 540.0,616.2 535.5,616.0 528.0,614.2 523.5,614.6 517.5,616.5 510.0,619.8 504.0,621.9 501.0,623.6 498.0,625.9 495.0,627.1 483.0,626.3 480.2,627.0 477.9,628.5 475.5,629.2 472.5,629.4 469.5,629.1 465.0,627.8 454.5,623.5 448.5,619.8 444.6,618.0 441.0,617.0 435.0,616.5 430.5,617.7 427.5,619.5 426.0,621.1 422.4,627.0 415.5,633.1 409.5,639.2 405.0,642.8 400.5,644.8 394.5,645.7 388.5,644.8 377.0,640.5 371.7,637.5 370.1,636.0 368.2,633.0 362.3,616.5 360.0,612.1 354.3,603.0 353.0,598.5 353.1,595.5 353.8,592.5 356.3,586.5 362.7,576.0 367.4,570.0 369.0,567.0 369.0,565.5 367.3,564.0 364.5,562.4 361.9,559.5 361.1,556.5 361.9,553.5 363.0,552.0 364.5,550.9 366.0,550.3 369.0,550.0 372.0,550.9 373.5,552.1 375.0,554.7 376.5,555.4 378.0,554.8 383.4,549.0 386.9,546.0 390.0,544.2 393.0,543.2 397.5,543.3 408.0,545.9 418.5,547.2 426.0,546.7 432.0,545.0 435.1,543.0 444.0,534.5 448.5,532.1 454.5,529.9 457.5,527.8 459.0,525.0 459.3,523.5 458.4,517.5 458.5,513.0 459.0,510.8 460.5,507.8 462.0,505.8 465.0,503.3 474.0,499.7 475.5,498.3 476.3,496.5 478.9,484.5 477.9,481.5 476.6,480.0 474.0,478.8 469.5,478.4 465.0,479.1 459.0,481.0 454.5,481.1 451.5,480.0 450.0,478.9 448.4,477.0 447.8,475.5 449.2,469.5 448.6,465.0 448.7,462.0 450.3,457.5 454.5,452.0 463.3,444.0 468.3,438.0 472.0,432.0 477.7,418.5 478.8,417.0 484.5,411.8 487.5,408.5 490.5,403.5 492.3,399.0 493.1,394.5 493.1,391.5 491.8,385.5 488.4,379.5 484.0,375.0 481.8,370.5 481.7,366.0 482.7,363.0 483.7,361.5 485.2,360.0 487.5,358.5 490.5,357.5 493.5,357.0 510.0,357.4 523.5,360.8 526.5,360.9 530.9,360.0 543.0,356.6 556.5,354.5 561.1,352.5 567.0,349.2 571.5,346.3 574.5,343.6 576.0,340.5 578.2,333.0 580.2,328.5 583.5,324.2 586.5,321.6 589.5,319.9 595.5,317.7 613.5,312.3 623.8,306.0 630.0,301.7 639.0,296.4 646.5,293.4 655.3,291.0 656.6,289.5 657.6,285.0 658.5,284.0 660.0,284.5 664.5,287.5 667.5,288.3 675.0,286.1 690.0,285.7 696.0,284.8 699.7,283.5 701.1,282.0 702.0,280.3 706.5,268.3 707.7,264.0 707.9,261.0 704.2,246.0 703.6,238.5 704.3,234.0 707.1,228.0 709.5,220.4 711.0,218.7 712.5,218.0 715.5,218.5 721.5,221.2 730.5,226.6 735.0,227.5 738.0,227.0 741.0,225.2 742.5,223.5 743.8,220.5 743.9,217.5 741.5,210.0 740.7,204.0 739.6,201.0 738.3,199.5 735.0,198.1 732.0,197.9 729.0,198.3 721.5,200.9 717.0,201.4 715.4,201.0 713.4,199.5 712.6,198.0 712.5,196.5 713.3,193.5 714.3,192.0 717.0,189.9 724.1,186.0 726.3,183.0 727.1,180.0 726.8,175.5 727.1,171.0 729.2,163.5 732.8,145.5 735.0,139.2 739.5,130.4 742.5,126.5 745.5,124.5 751.5,122.6 759.0,121.5 763.5,121.6 769.5,123.7 775.5,123.5 787.5,125.5 795.0,125.3 799.5,124.2 801.0,123.0 802.9,120.0 804.1,115.5 803.5,111.0 800.4,105.0 800.1,103.5 801.2,100.5 805.5,96.0 816.4,87.0 822.8,81.0 829.5,73.5 835.3,66.0ZM766.5,323.3 761.4,327.0 756.0,329.1 750.0,330.0 742.5,329.6 738.0,331.0 735.6,333.0 734.8,334.5 734.4,336.0 734.5,339.0 733.5,339.8 726.0,336.9 723.0,336.6 717.0,338.6 714.9,340.5 714.0,343.5 716.0,349.5 715.9,352.5 714.6,357.0 711.4,364.5 710.6,369.0 713.0,381.0 713.0,391.5 713.6,396.0 715.7,400.5 717.0,402.1 718.5,403.1 721.5,403.8 726.0,404.3 733.5,404.3 736.2,403.5 738.0,402.4 741.0,399.0 742.7,394.5 744.0,385.3 747.4,375.0 748.0,370.5 748.0,363.0 748.6,360.0 751.5,355.0 758.7,346.5 762.0,342.0 769.5,329.9 770.9,327.0 771.1,325.5 770.6,324.0 769.5,323.0 768.0,322.6 766.5,323.3ZM772.7,108.0 775.5,107.4 776.1,108.0 775.5,110.2 774.0,111.6 772.5,112.3 771.0,111.8 770.7,111.0 771.2,109.5 772.7,108.0ZM323.9,612.0 328.5,611.0 331.5,611.4 333.0,612.3 334.0,613.5 334.7,616.5 333.9,621.0 332.0,624.0 328.5,627.0 325.5,628.2 322.5,627.5 319.2,625.5 317.8,624.0 317.0,622.5 316.8,621.0 317.3,618.0 319.2,615.0 321.0,613.5 323.9,612.0ZM266.0,636.0 273.0,634.7 279.0,634.8 283.3,636.0 284.8,637.5 285.1,639.0 284.7,640.5 282.5,643.5 278.3,646.5 268.5,650.8 261.0,654.6 259.5,654.8 256.8,654.0 254.6,652.5 252.3,649.5 252.0,648.0 252.8,645.0 255.3,642.0 258.0,639.9 262.2,637.5 266.0,636.0Z"/>
<path fill="#ff9393" d="M834.7,123.0 835.5,122.4 835.5,593.3 828.8,585.0 820.9,576.0 813.5,568.5 805.5,561.2 798.0,555.0 789.0,548.3 780.0,542.3 771.0,537.1 762.0,532.6 753.0,528.7 744.0,525.4 735.0,522.7 726.0,520.7 715.5,519.1 706.5,518.5 699.0,518.7 691.5,520.2 685.5,523.3 681.0,527.1 669.6,538.5 662.7,544.5 654.5,550.5 645.0,555.9 637.5,559.2 630.0,561.7 622.5,563.5 610.5,565.5 601.5,567.6 597.0,569.1 594.0,570.7 589.5,574.5 585.8,579.0 583.1,583.5 577.5,594.9 575.2,598.5 573.0,600.9 570.0,602.5 567.0,602.6 561.0,601.7 556.5,602.3 551.0,604.5 543.0,609.2 538.5,610.7 535.5,610.6 526.5,609.4 520.5,610.0 514.5,612.1 507.0,616.3 504.0,617.4 493.5,619.9 481.5,621.7 474.0,623.7 469.5,623.4 459.0,620.7 456.6,619.5 453.9,616.5 451.5,614.9 448.5,613.5 445.5,612.6 424.5,610.1 412.5,611.5 410.4,612.0 409.3,613.5 411.1,621.0 411.0,624.0 410.2,627.0 406.5,632.8 402.0,637.0 399.0,638.5 397.5,638.9 393.0,638.8 387.0,636.9 384.0,635.4 380.7,633.0 377.9,630.0 375.3,625.5 373.7,616.5 371.5,607.5 366.0,595.5 364.9,589.5 365.2,585.0 366.1,582.0 374.1,573.0 375.6,570.0 377.6,562.5 378.6,561.0 388.5,550.2 390.1,549.0 393.0,548.0 396.0,547.9 399.0,548.4 405.0,550.5 406.4,552.0 405.9,556.5 407.0,559.5 408.6,561.0 411.0,561.6 412.5,561.3 415.1,559.5 416.4,558.0 418.5,554.0 420.0,553.0 424.5,552.7 436.5,554.6 439.5,554.3 441.0,552.6 444.0,544.6 445.5,543.0 448.5,541.7 459.0,539.1 462.7,537.0 465.0,534.5 466.2,531.0 466.4,528.0 466.1,525.0 464.5,519.0 465.0,516.0 466.5,514.0 468.0,513.0 471.0,512.2 480.0,511.5 483.0,510.9 487.3,508.5 489.7,505.5 490.3,504.0 490.3,501.0 489.8,499.5 486.0,493.2 485.2,490.5 485.2,489.0 486.0,486.6 487.5,484.1 490.5,480.9 493.5,479.3 500.0,477.0 500.5,475.5 498.9,472.5 495.5,469.5 492.0,467.6 487.5,466.1 483.0,465.6 480.0,465.8 475.5,467.0 462.0,472.7 459.0,473.2 457.5,473.0 456.0,472.3 454.5,470.9 453.2,468.0 452.9,465.0 454.5,460.9 457.5,457.8 462.0,455.0 472.0,450.0 474.0,448.5 477.0,445.3 480.0,440.2 486.3,426.0 498.9,400.5 501.2,393.0 501.5,388.5 501.1,385.5 500.1,382.5 498.3,379.5 495.1,376.5 490.7,373.5 489.7,372.0 489.6,370.5 490.1,369.0 492.0,367.2 495.0,366.4 499.5,367.0 519.0,374.1 523.5,375.2 526.5,375.4 529.5,375.1 532.5,374.3 544.5,368.5 549.0,366.9 561.0,366.5 568.5,365.1 573.0,362.9 576.0,360.3 577.5,358.5 585.6,346.5 586.8,343.5 589.0,336.0 589.9,334.5 591.0,333.6 594.0,332.5 601.5,331.6 604.5,330.7 614.3,322.5 633.9,309.0 640.5,305.4 648.0,302.0 664.5,295.8 673.5,296.8 675.0,296.6 681.0,294.8 684.0,294.5 687.0,295.5 689.2,297.0 693.7,301.5 695.5,304.5 701.3,318.0 704.0,327.0 704.9,334.5 703.6,342.0 704.0,343.5 709.5,346.8 710.7,348.0 710.9,349.5 709.8,352.5 702.3,363.0 700.8,366.0 700.5,367.5 701.3,370.5 705.2,376.5 706.6,379.5 706.6,382.5 704.8,394.5 705.4,399.0 706.8,402.0 709.5,404.9 715.5,409.3 718.5,410.6 723.0,411.3 729.0,414.9 733.5,416.7 738.0,417.2 742.5,416.5 747.0,414.4 751.0,411.0 753.3,408.0 755.6,403.5 761.1,384.0 763.5,378.6 766.9,373.5 769.7,370.5 774.0,367.1 790.7,357.0 798.0,351.8 805.3,345.0 810.0,339.0 813.4,333.0 816.1,325.5 817.1,319.5 817.2,312.0 816.1,306.0 814.7,301.5 812.5,297.0 809.5,292.5 805.5,288.2 801.0,284.8 796.5,282.3 791.5,280.5 784.5,279.3 775.5,279.5 768.0,280.7 753.0,284.3 745.5,285.0 742.5,285.9 739.5,286.3 729.0,285.1 715.5,285.2 714.0,284.9 712.1,283.5 711.1,280.5 711.2,279.0 714.1,271.5 714.8,267.0 714.8,264.0 713.8,258.0 714.5,249.0 715.5,243.1 716.8,238.5 718.5,235.9 720.0,236.0 723.0,238.8 727.5,239.8 736.5,239.9 744.0,238.5 755.8,234.0 761.0,231.0 763.5,228.7 765.3,226.5 766.8,223.5 767.5,220.5 767.5,216.0 766.8,213.0 764.5,208.5 762.1,205.5 750.1,195.0 744.3,189.0 739.5,186.2 735.0,185.0 733.5,184.0 732.0,182.2 731.3,180.0 731.3,178.5 732.8,169.5 733.5,167.5 736.5,162.4 739.5,158.2 741.0,157.6 742.5,157.6 744.0,158.2 747.0,160.3 748.5,160.5 753.4,159.0 755.6,157.5 757.5,155.5 759.1,150.0 760.5,147.2 763.4,145.5 778.5,140.8 792.7,133.5 802.5,131.1 808.5,127.0 810.0,126.4 813.0,126.5 820.5,129.1 823.5,129.0 826.5,127.9 834.7,123.0ZM382.5,604.3 380.1,606.0 379.4,607.5 379.2,609.0 380.0,615.0 381.2,616.5 384.0,617.5 387.0,617.0 392.1,615.0 394.2,613.5 395.5,612.0 395.8,610.5 395.4,609.0 394.3,607.5 391.5,605.4 387.0,603.9 384.0,603.9 382.5,604.3ZM660.0,466.5 657.2,468.0 655.3,471.0 654.5,475.5 655.3,480.0 657.0,483.5 660.0,486.9 661.5,487.9 664.5,489.1 667.5,489.0 669.0,488.1 670.5,486.1 671.2,483.0 670.9,477.0 669.0,469.1 667.6,466.5 666.0,465.8 660.0,466.5ZM739.5,298.5 741.0,297.3 742.5,297.0 744.0,298.9 744.0,301.7 741.2,307.5 738.0,312.0 735.0,314.5 732.0,315.6 730.5,315.6 729.4,315.0 729.0,313.5 729.8,312.0 734.7,307.5 737.3,304.5 739.5,298.5ZM370.2,556.5 370.8,556.5 370.5,556.8 370.2,556.5Z"/>
<path fill="#ff8080" d="M835.5,184.5 835.5,205.4 834.3,195.0 834.6,189.0 835.5,184.5ZM655.8,307.5 660.0,306.8 667.5,308.4 675.0,306.2 676.5,306.2 679.5,307.4 682.5,310.1 685.5,314.1 688.5,319.0 693.0,328.1 694.9,333.0 695.6,337.5 694.7,343.5 694.7,346.5 695.8,354.0 695.2,357.0 691.7,364.5 690.7,369.0 690.7,373.5 692.2,381.0 691.6,385.5 689.4,390.0 683.9,397.5 682.6,400.5 682.5,403.5 682.8,406.5 686.9,418.5 686.9,420.0 686.1,423.0 684.0,426.5 680.2,430.5 675.0,434.8 670.5,437.3 667.5,439.8 666.0,442.4 665.5,444.0 664.6,451.5 663.9,454.5 661.0,460.5 659.5,462.0 652.5,464.1 649.5,466.3 647.2,469.5 645.3,474.0 643.9,481.5 644.1,489.0 645.3,495.0 650.1,511.5 651.0,517.5 650.9,522.0 649.9,528.0 647.5,534.0 643.7,540.0 639.7,544.5 634.6,549.0 630.1,552.0 625.5,554.5 621.0,556.3 616.5,557.5 612.0,558.0 601.5,557.2 593.2,559.5 588.0,562.2 583.5,566.2 579.5,571.5 576.3,577.5 570.9,591.0 568.7,594.0 566.6,595.5 564.0,596.3 558.0,596.9 553.5,597.9 543.0,603.3 538.5,604.8 534.0,605.3 522.0,604.7 516.0,605.7 510.0,608.3 504.0,612.6 502.5,612.8 496.5,610.9 484.5,612.0 480.0,611.6 479.7,612.0 480.3,613.5 480.0,615.2 468.0,615.3 460.5,614.9 457.3,613.5 457.5,610.5 456.1,609.0 453.0,607.0 450.0,605.9 447.0,605.4 439.5,605.0 433.5,602.8 430.5,602.2 423.0,602.9 419.8,601.5 417.0,599.7 414.0,598.9 411.0,599.2 403.5,601.0 400.5,601.2 397.5,600.7 393.0,599.2 388.2,597.0 384.0,594.7 381.4,592.5 379.3,589.5 378.4,586.5 378.3,583.5 378.9,580.5 383.0,570.0 383.9,562.5 386.7,559.5 391.5,555.9 394.5,554.8 397.5,555.2 399.4,556.5 401.7,561.0 404.4,564.0 408.0,566.0 411.0,566.8 414.0,566.2 415.5,565.1 418.5,561.9 420.0,561.0 423.0,560.5 424.5,560.7 427.5,562.2 429.6,564.0 435.0,571.0 438.0,573.9 442.5,575.4 445.5,575.5 448.5,574.8 451.7,573.0 453.9,570.0 454.8,567.0 455.4,559.5 457.1,555.0 466.5,544.9 470.7,538.5 475.5,528.8 478.5,525.1 483.0,522.9 496.5,519.3 502.5,517.2 525.0,506.2 527.8,504.0 529.3,501.0 529.7,498.0 529.5,495.0 528.7,492.0 527.2,489.0 525.9,487.5 518.2,481.5 517.2,480.0 516.3,477.0 516.7,471.0 519.3,457.5 518.9,453.0 518.3,451.5 516.3,448.5 508.1,439.5 506.0,435.0 505.2,430.5 504.8,424.5 505.0,418.5 505.7,414.0 506.7,411.0 508.5,407.8 511.5,404.0 514.5,401.0 517.3,399.0 520.5,397.4 531.0,393.8 543.0,388.1 549.0,386.5 553.5,386.8 556.5,388.1 558.7,390.0 560.5,393.0 561.3,397.5 560.7,403.5 558.9,411.0 556.3,417.0 553.5,420.7 550.5,423.4 539.2,430.5 535.4,433.5 531.9,438.0 530.4,441.0 528.8,445.5 528.2,450.0 529.1,454.5 536.4,468.0 538.5,471.0 540.0,472.3 543.0,473.4 552.0,474.1 564.0,475.7 568.5,475.8 571.5,475.1 574.5,473.7 579.0,470.5 588.0,462.3 598.5,451.6 601.1,448.5 602.7,445.5 603.7,442.5 604.2,439.5 603.9,432.0 602.0,420.0 602.4,417.0 605.4,409.5 606.5,405.0 606.4,400.5 604.2,390.0 603.8,385.5 604.1,381.0 605.8,375.0 607.9,370.5 611.1,366.0 613.5,363.7 621.5,358.5 623.9,355.5 624.4,352.5 623.7,340.5 624.0,336.0 625.6,330.0 628.1,325.5 630.9,322.5 636.3,318.0 649.5,310.5 655.8,307.5ZM421.5,583.6 420.4,585.0 421.5,586.8 423.0,586.4 423.7,585.0 423.0,583.6 421.5,583.6ZM510.0,563.4 508.3,565.5 507.3,568.5 507.5,570.0 508.4,571.5 511.5,572.9 514.5,573.0 516.0,572.4 516.9,571.5 517.5,570.3 517.6,568.5 516.0,564.3 514.5,563.0 513.0,562.5 511.5,562.6 510.0,563.4ZM834.0,375.0 835.5,373.6 835.5,519.7 799.8,487.5 789.5,477.0 784.9,471.0 781.6,465.0 779.7,459.0 779.1,453.0 779.5,448.5 780.3,444.0 783.6,433.5 789.3,420.0 795.3,409.5 800.0,403.5 805.5,398.2 825.0,382.8 834.0,375.0Z"/>
<path fill="#ff6c6c" d="M656.3,321.0 658.5,320.2 661.5,319.8 669.0,320.5 673.5,321.5 676.5,322.9 679.5,325.3 683.1,330.0 686.1,337.5 686.2,342.0 684.0,350.5 682.6,354.0 681.0,356.4 678.0,358.8 675.0,360.0 670.5,360.7 660.0,360.6 654.0,360.1 646.5,358.1 643.6,355.5 642.0,352.9 639.0,346.7 637.1,340.5 636.5,334.5 637.5,330.5 640.5,326.8 642.0,326.1 643.5,326.2 646.5,327.1 648.0,327.0 653.6,322.5 656.3,321.0ZM613.3,466.5 615.0,465.9 618.0,465.7 621.0,466.2 624.0,467.2 627.5,469.5 628.5,471.1 629.0,474.0 627.8,480.0 624.5,487.5 624.2,489.0 624.4,490.5 628.5,500.7 630.0,507.0 631.0,516.0 630.5,525.0 628.7,532.5 626.0,538.5 622.8,543.0 618.0,547.7 613.5,550.2 610.5,550.9 598.5,548.9 595.3,547.5 591.0,543.9 588.0,542.3 577.5,539.2 571.5,538.9 570.8,538.5 571.4,537.0 574.5,536.1 576.0,535.2 579.0,532.3 580.7,529.5 581.5,526.5 581.1,523.5 579.0,521.0 576.0,519.5 571.5,518.2 567.0,518.3 561.0,521.2 558.0,522.0 555.0,521.3 550.5,518.6 549.0,518.1 547.5,518.0 546.0,518.6 544.5,519.8 543.2,522.0 543.2,529.5 542.8,532.5 541.5,536.2 540.0,537.8 535.5,538.1 529.5,539.6 526.5,539.5 519.0,537.0 516.5,535.5 515.1,534.0 514.1,531.0 514.2,528.0 515.6,523.5 518.1,519.0 520.6,516.0 524.3,513.0 531.6,510.0 539.1,505.5 540.4,504.0 541.9,501.0 543.7,492.0 544.5,490.4 546.0,489.3 549.0,488.9 552.0,489.2 565.5,492.8 571.5,493.9 583.3,495.0 588.0,494.9 591.0,494.0 593.8,492.0 594.5,490.5 592.9,484.5 593.5,483.0 595.5,482.3 597.4,483.0 598.6,484.5 598.8,486.0 598.5,490.5 599.2,492.0 601.5,493.6 604.5,494.7 609.0,494.7 613.8,493.5 616.8,492.0 618.6,490.5 619.3,489.0 619.0,487.5 616.0,484.5 610.5,481.2 609.2,480.0 608.4,478.5 608.3,475.5 609.5,471.0 611.3,468.0 613.3,466.5ZM483.7,534.0 486.0,533.1 489.0,532.6 493.5,533.2 495.8,534.0 498.3,535.5 500.6,538.5 500.9,540.0 500.5,543.0 498.0,548.8 497.3,552.0 498.9,558.0 498.8,562.5 495.1,570.0 496.0,573.0 501.0,579.6 502.5,580.8 505.5,582.3 517.5,585.3 520.5,584.6 526.5,580.4 529.5,578.8 531.0,578.3 534.0,578.3 540.0,580.1 547.5,581.7 550.5,583.1 551.9,585.0 551.9,586.5 550.2,589.5 541.9,597.0 539.5,598.5 535.5,599.6 529.5,599.7 519.0,597.3 516.0,597.1 513.0,597.5 504.0,599.7 493.5,599.5 487.5,600.3 481.5,602.0 480.0,602.0 478.7,601.5 477.5,600.0 477.3,598.5 477.6,597.0 480.6,592.5 481.7,589.5 482.1,576.0 481.5,573.5 478.9,570.0 477.7,567.0 477.0,558.4 474.8,553.5 474.1,549.0 475.1,544.5 477.4,540.0 480.0,536.7 483.7,534.0ZM394.2,567.0 396.0,566.6 397.5,566.7 400.5,567.4 403.5,568.7 406.5,570.7 409.0,573.0 410.5,576.0 410.7,579.0 410.3,583.5 409.0,588.0 406.9,591.0 405.3,592.5 403.5,593.7 400.5,594.8 399.0,595.0 396.0,594.5 391.5,592.2 388.5,589.3 387.6,588.0 386.5,585.0 386.3,577.5 387.3,574.5 391.5,568.9 394.2,567.0Z"/>
<path fill="#ff5858" d="M673.0,336.0 675.0,336.1 676.5,336.8 678.4,339.0 678.4,340.5 678.0,341.6 676.5,343.2 675.0,343.9 673.5,344.0 671.8,343.5 670.2,342.0 669.7,340.5 669.8,339.0 670.4,337.5 672.0,336.3 673.0,336.0ZM529.1,514.5 532.5,513.5 535.5,514.0 537.0,515.1 538.0,517.5 537.8,522.0 536.2,526.5 534.0,528.7 531.0,529.7 528.0,529.3 526.5,528.5 525.0,526.8 524.3,525.0 524.2,522.0 525.0,519.0 526.5,516.6 529.1,514.5ZM483.5,544.5 484.5,543.8 486.0,543.5 487.5,543.9 489.0,545.0 490.5,548.3 491.2,552.0 491.3,556.5 490.5,559.5 488.6,562.5 487.5,563.5 486.0,564.1 484.5,562.5 484.7,561.0 484.2,559.5 482.2,555.0 481.4,552.0 481.6,547.5 483.5,544.5ZM394.1,571.5 396.0,570.7 397.5,570.5 400.5,571.1 403.5,573.0 405.7,576.0 406.3,579.0 405.7,583.5 403.5,587.1 400.5,589.1 397.5,589.5 394.5,588.7 391.5,586.4 389.9,583.5 389.3,579.0 390.0,576.0 391.5,573.7 394.1,571.5Z"/>
<path fill="#ff4545" d="M530.1,520.5 531.0,519.5 532.3,520.5 531.0,522.2 530.1,520.5ZM394.3,574.5 396.0,573.7 399.0,573.7 400.5,574.5 402.1,576.0 402.8,577.5 402.9,580.5 402.0,583.0 400.5,584.5 399.0,585.3 396.0,585.3 394.5,584.6 393.0,583.1 392.0,580.5 391.9,579.0 392.9,576.0 394.3,574.5Z"/>
<path fill="#ff3131" d="M395.1,577.5 396.0,576.7 397.5,576.3 399.0,576.8 399.7,577.5 400.3,579.0 400.0,580.5 399.0,581.7 397.5,582.2 396.0,581.8 394.8,580.5 394.5,579.3 395.1,577.5Z"/>
<path fill="#f5f5ff" d="M135.0,15.0 749.9,15.0 743.9,31.5 742.1,43.5 738.9,55.5 737.4,64.5 736.5,67.8 727.5,90.0 724.8,94.5 717.4,105.0 707.1,127.5 705.3,135.0 704.8,145.5 704.1,150.0 702.0,157.2 700.0,160.5 697.5,162.7 693.0,165.1 672.0,171.4 663.0,175.2 654.0,180.9 644.3,189.0 632.6,201.0 627.8,207.0 623.6,213.0 617.9,223.5 615.6,229.5 612.4,240.0 610.5,242.9 609.0,243.5 606.0,243.6 595.5,242.2 589.5,241.9 583.5,242.2 577.5,243.0 570.0,244.6 561.0,247.3 550.5,251.1 541.5,254.9 531.0,260.2 522.0,265.9 514.6,271.5 496.3,286.5 471.0,303.0 465.0,307.7 460.5,311.9 454.5,318.7 449.0,327.0 444.8,336.0 442.0,345.0 440.7,352.5 440.1,361.5 441.4,382.5 441.4,388.5 440.6,394.5 439.0,400.5 434.5,411.0 419.9,439.5 413.2,454.5 406.9,472.5 396.0,510.5 393.8,516.0 391.5,519.8 389.7,522.0 387.0,524.3 381.9,526.5 376.5,526.9 360.0,525.1 351.0,525.6 345.0,526.8 340.5,528.4 334.7,531.0 330.0,533.7 321.5,540.0 313.0,547.5 297.0,563.0 289.3,571.5 285.0,577.4 281.6,583.5 279.3,589.5 276.5,600.0 274.9,603.0 273.4,604.5 270.0,606.7 264.0,608.5 256.5,609.6 247.5,610.1 237.0,609.3 228.0,606.9 219.0,603.4 192.0,590.9 175.5,584.1 156.0,577.4 135.0,571.7 135.0,15.0ZM669.4,255.0 670.5,254.2 671.6,255.0 670.5,256.6 669.4,255.0ZM557.7,636.0 561.0,635.2 564.0,635.8 568.1,639.0 572.0,643.5 574.3,648.0 575.4,658.5 576.3,661.5 590.0,679.5 605.0,702.0 611.5,712.5 616.6,723.0 618.8,729.0 620.9,736.5 621.9,742.5 622.6,750.0 622.5,757.5 621.8,765.0 620.5,772.5 618.5,780.0 135.0,780.0 135.0,728.1 145.6,721.5 153.8,717.0 168.0,711.1 175.5,707.2 184.1,699.0 192.0,689.4 195.0,686.4 204.0,680.5 211.5,677.4 220.5,675.9 235.5,675.6 249.0,673.7 265.5,672.9 286.5,668.2 292.5,666.0 297.0,663.2 306.0,655.7 312.0,649.2 313.5,648.6 314.9,649.5 315.2,651.0 316.4,652.5 318.0,653.4 321.0,653.7 323.6,652.5 325.1,651.0 327.0,646.3 328.5,645.7 330.0,646.7 334.2,652.5 335.5,655.5 337.7,663.0 340.5,666.9 342.0,668.1 352.4,673.5 358.2,678.0 361.5,680.1 366.0,681.5 370.5,681.5 373.5,680.9 378.0,679.4 409.2,664.5 416.3,661.5 421.5,659.9 424.5,659.4 429.0,659.6 438.0,657.5 453.0,658.5 454.5,658.1 457.5,655.2 459.0,655.2 468.0,657.6 474.0,657.6 477.0,656.8 478.5,655.5 480.0,652.1 481.5,650.9 483.0,650.3 486.0,650.0 493.5,651.7 498.0,651.6 502.5,649.8 510.0,644.3 514.5,642.2 517.5,641.9 523.5,642.3 528.0,642.1 532.5,641.1 538.5,638.9 550.5,638.1 557.7,636.0Z"/>
<path fill="#e2e2ff" d="M135.0,15.0 738.0,15.0 736.3,30.0 735.6,42.0 732.8,51.0 730.5,60.0 729.0,63.3 724.5,69.7 721.5,73.0 714.0,78.9 709.5,80.1 706.5,79.7 702.0,78.3 699.0,78.4 696.0,79.6 691.5,82.5 685.2,88.5 680.7,94.5 677.4,100.5 668.5,124.5 664.4,133.5 659.7,141.0 653.2,148.5 646.6,154.5 622.5,174.6 600.0,194.5 589.5,202.6 583.5,206.4 576.0,210.4 547.5,223.4 534.0,230.2 520.5,238.0 507.0,247.4 492.0,259.4 463.5,284.1 453.0,294.4 444.0,305.4 438.8,313.5 434.8,321.0 431.2,330.0 428.6,339.0 427.1,346.5 425.9,355.5 424.4,387.0 423.2,394.5 420.7,403.5 416.2,415.5 400.0,453.0 393.5,471.0 384.0,500.6 381.8,505.5 379.5,509.0 376.5,511.6 372.0,513.3 351.0,514.8 345.0,515.8 339.0,517.3 328.5,521.3 322.5,524.4 316.5,528.0 308.3,534.0 300.0,541.0 291.7,549.0 284.9,556.5 280.1,562.5 276.1,568.5 272.6,574.5 267.0,586.0 263.6,591.0 261.0,593.2 258.0,594.6 255.0,595.3 250.5,595.7 246.0,595.5 240.0,594.4 229.5,591.0 219.0,586.3 190.5,571.9 175.5,565.0 156.0,557.1 135.0,550.0 135.0,15.0ZM517.6,655.5 520.5,655.3 523.5,655.6 529.5,657.2 530.7,657.0 532.5,655.5 534.0,656.0 537.0,658.3 542.4,664.5 544.5,666.3 556.5,671.1 558.0,671.3 561.0,670.2 562.0,670.5 563.1,672.0 565.5,680.1 567.7,696.0 568.8,700.5 571.6,706.5 578.8,718.5 582.7,726.0 585.9,735.0 587.3,742.5 587.7,748.5 587.4,753.0 585.5,762.0 583.9,766.5 581.6,771.0 578.7,775.5 575.1,780.0 135.0,780.0 135.0,743.9 152.4,726.0 157.3,721.5 163.6,717.0 175.5,710.5 179.1,708.0 185.3,702.0 193.5,693.1 196.5,690.4 202.5,686.7 210.0,683.1 220.5,681.4 225.0,681.1 229.5,681.4 237.0,683.0 238.5,683.0 247.5,680.3 253.5,679.7 268.5,679.3 289.5,675.4 294.0,674.0 298.5,671.5 315.0,657.7 316.9,657.0 322.5,656.8 327.0,655.7 328.5,656.1 330.0,657.6 334.2,667.5 336.0,670.3 339.0,673.4 345.0,678.5 361.5,686.6 366.0,687.5 372.0,687.6 378.0,686.4 384.0,684.1 411.7,669.0 420.0,665.1 426.0,663.0 427.5,662.7 433.5,663.2 441.0,663.0 454.5,665.5 460.5,666.0 465.0,665.5 480.0,662.8 484.5,662.8 490.5,663.5 493.5,663.5 496.7,663.0 502.5,660.8 508.5,659.1 514.5,656.4 517.6,655.5Z"/>
<path fill="#ceceff" d="M135.0,15.0 727.2,15.0 728.2,22.5 730.5,31.8 730.8,34.5 728.4,46.5 727.5,48.6 726.0,50.4 721.4,54.0 720.4,55.5 721.7,58.5 721.7,60.0 720.2,61.5 715.1,64.5 708.0,67.7 705.0,67.8 697.5,66.7 693.0,66.6 688.5,67.0 682.5,68.3 673.3,72.0 664.0,78.0 657.1,84.0 649.0,93.0 642.1,102.0 628.3,121.5 618.7,133.5 608.9,144.0 597.0,155.2 583.5,166.6 568.5,177.6 555.7,186.0 520.5,207.8 499.5,222.5 487.5,232.1 475.5,242.6 463.5,254.0 451.5,266.4 439.5,280.4 430.9,292.5 423.9,304.5 418.0,318.0 414.1,330.0 411.5,342.0 409.8,354.0 406.8,384.0 404.9,394.5 402.6,403.5 396.5,421.5 378.0,468.2 372.9,480.0 368.6,487.5 364.5,492.2 361.5,494.6 358.2,496.5 352.5,498.8 334.5,504.4 325.5,507.8 315.0,512.7 304.5,518.9 293.8,526.5 283.1,535.5 273.9,544.5 259.5,560.1 255.0,564.3 251.3,567.0 247.5,568.8 244.5,569.6 240.0,569.9 232.5,568.8 222.0,565.3 169.5,540.8 151.5,533.2 135.0,527.0 135.0,15.0ZM318.0,663.0 319.5,662.5 322.5,662.5 324.0,663.0 325.6,664.5 327.2,669.0 327.4,676.5 328.1,678.0 329.8,679.5 339.6,684.0 352.5,688.3 361.5,692.0 366.0,693.2 370.5,693.7 378.0,693.0 382.5,691.8 386.9,690.0 393.0,686.7 414.0,673.9 421.5,670.3 426.0,668.8 439.5,668.6 445.5,669.1 459.0,672.9 463.5,673.6 466.5,673.0 474.0,670.0 477.0,669.5 478.5,669.6 481.5,671.2 486.0,675.4 487.5,676.2 490.5,676.6 492.0,676.4 494.3,675.0 496.9,670.5 498.3,669.0 502.5,667.5 511.5,666.2 517.5,665.8 523.5,666.2 530.1,667.5 535.5,670.4 541.5,674.7 544.5,678.0 547.0,682.5 547.9,687.0 547.5,690.0 546.3,693.0 542.5,699.0 542.1,700.5 542.4,703.5 543.0,705.5 544.6,708.0 553.6,717.0 557.4,721.5 561.8,729.0 563.9,735.0 564.7,741.0 564.3,747.0 563.1,751.5 560.0,757.5 557.5,760.5 555.0,762.9 549.0,766.6 541.5,769.0 535.5,769.6 529.5,769.2 522.0,767.7 505.5,762.9 501.0,762.6 498.0,763.5 496.2,765.0 494.6,768.0 493.8,772.5 493.5,780.0 135.0,780.0 135.0,765.0 144.0,753.8 150.0,745.4 154.5,738.0 159.9,727.5 162.8,723.0 165.5,720.0 169.3,717.0 181.4,709.5 186.5,705.0 193.5,698.0 198.0,694.5 202.5,692.2 208.5,690.2 216.0,689.9 223.5,687.7 228.0,687.7 229.6,688.5 229.6,690.0 228.6,693.0 228.4,696.0 229.0,699.0 229.7,700.5 231.0,702.1 232.5,703.1 234.0,703.5 237.0,703.2 238.9,702.0 241.0,699.0 243.6,690.0 244.6,688.5 247.3,687.0 250.5,686.5 261.0,687.1 267.0,686.5 294.4,682.5 312.0,677.6 313.8,676.5 312.8,672.0 313.2,669.0 313.8,667.5 316.0,664.5 318.0,663.0Z"/>
<path fill="#babaff" d="M135.0,15.0 712.2,15.0 715.9,36.0 715.5,37.8 713.4,40.5 706.5,45.8 702.3,48.0 696.0,49.6 678.0,51.6 666.0,54.7 658.5,57.7 652.5,60.7 646.2,64.5 639.7,69.0 632.3,75.0 624.0,82.5 589.5,118.3 570.0,136.6 547.8,154.5 508.5,183.3 490.5,197.2 471.0,213.9 453.4,231.0 437.3,249.0 430.1,258.0 423.5,267.0 413.2,283.5 408.5,292.5 404.5,301.5 399.1,316.5 394.8,333.0 392.1,348.0 387.0,384.0 384.6,396.0 381.8,406.5 376.4,423.0 368.6,442.5 361.5,457.4 355.5,467.2 352.5,471.0 348.1,475.5 340.5,481.2 331.8,486.0 309.0,497.0 297.0,503.5 284.0,511.5 255.0,530.8 249.0,533.9 243.0,536.2 237.0,537.4 231.0,537.7 226.5,537.3 220.5,536.2 207.0,532.1 193.5,526.6 154.5,509.7 135.0,501.9 135.0,15.0ZM437.4,675.0 442.5,674.9 447.0,675.5 459.0,679.5 463.5,680.3 468.0,680.0 474.0,678.3 477.0,678.0 480.0,679.1 486.0,683.4 489.0,684.7 490.5,684.9 493.5,684.5 495.0,683.8 498.9,681.0 502.5,677.1 504.0,676.1 507.0,675.3 511.5,675.1 517.5,675.9 525.5,678.0 531.0,680.4 533.6,682.5 534.8,684.0 535.7,685.5 536.5,688.5 536.4,690.0 535.6,693.0 532.7,696.0 531.8,697.5 531.4,699.0 531.6,702.0 536.6,712.5 545.3,726.0 547.5,732.0 548.0,736.5 547.8,739.5 547.0,742.5 545.5,745.5 543.1,748.5 540.0,750.9 537.0,752.4 532.5,753.7 525.0,754.3 504.0,753.1 499.5,753.5 496.1,754.5 490.5,758.5 487.5,762.0 485.2,768.0 482.5,780.0 143.3,780.0 156.0,760.5 164.8,744.0 166.6,739.5 167.2,736.5 166.6,729.0 166.9,726.0 168.9,721.5 171.9,718.5 184.2,711.0 195.0,702.1 198.0,700.2 201.0,699.0 205.5,697.6 207.2,697.5 208.7,699.0 209.6,702.0 211.5,702.6 213.2,702.0 217.5,698.8 220.5,697.7 222.0,698.5 224.3,705.0 226.5,707.6 229.5,709.6 234.0,710.6 237.0,710.2 239.3,709.5 241.5,708.3 243.8,706.5 246.0,703.5 248.1,697.5 249.0,696.4 250.5,696.0 252.0,696.2 258.0,699.5 261.0,699.8 262.6,699.0 268.1,694.5 271.5,692.8 295.5,689.5 309.0,688.7 319.5,688.7 342.0,692.3 354.0,695.2 361.5,698.2 366.0,699.5 370.5,700.1 376.5,700.1 384.0,698.6 391.5,695.5 397.5,691.9 412.5,681.7 420.0,677.8 426.0,676.1 437.4,675.0Z"/>
<path fill="#a7a7ff" d="M135.0,15.0 681.2,15.0 677.8,19.5 672.1,24.0 666.0,27.4 645.0,37.4 634.5,43.2 621.0,51.9 607.5,62.0 592.3,75.0 561.0,103.5 544.5,118.0 492.0,160.9 474.0,176.2 456.0,192.9 439.5,209.8 423.0,229.1 415.5,238.9 408.4,249.0 402.0,259.2 396.7,268.5 392.1,277.5 387.3,288.0 380.7,306.0 375.7,324.0 372.2,340.5 365.1,381.0 359.8,402.0 355.5,415.0 351.0,426.0 345.7,436.5 340.1,445.5 332.8,454.5 324.0,462.5 313.8,469.5 298.0,478.5 271.5,492.2 255.0,499.5 247.5,502.0 241.5,503.5 235.5,504.4 229.5,504.7 222.0,504.4 214.5,503.3 207.0,501.5 198.0,498.8 180.0,492.2 135.0,473.9 135.0,15.0ZM430.6,682.5 441.0,681.8 445.5,682.2 448.5,682.8 460.5,687.4 472.5,690.7 475.5,692.4 481.9,697.5 484.5,698.8 492.0,699.9 498.0,701.9 502.7,702.0 508.5,698.8 510.0,698.8 511.3,700.5 511.6,702.0 511.2,705.0 510.7,706.5 508.4,709.5 508.9,714.0 506.5,721.5 505.7,726.0 506.2,730.5 510.2,739.5 510.3,741.0 509.4,742.5 493.5,750.4 487.1,754.5 483.3,757.5 480.2,762.0 471.9,780.0 161.9,780.0 168.0,768.4 172.2,759.0 174.8,751.5 178.8,738.0 179.3,735.0 178.9,732.0 178.0,730.5 173.5,726.0 173.0,724.5 173.2,723.0 174.3,721.5 178.3,718.5 193.5,709.3 196.5,707.9 201.0,707.2 207.0,708.2 210.2,709.5 217.5,714.6 222.0,716.9 226.5,718.2 232.5,718.4 237.0,717.7 241.5,716.2 253.5,710.2 264.0,705.7 273.0,701.2 276.0,700.0 283.5,698.6 310.5,696.1 324.0,697.3 330.0,699.0 339.0,702.5 351.0,703.5 367.5,707.5 373.5,708.1 379.5,707.8 387.0,706.2 393.0,703.7 400.5,699.3 412.5,690.0 418.5,686.0 424.5,683.4 430.6,682.5Z"/>
<path fill="#9393ff" d="M135.0,15.0 622.4,15.0 594.0,36.1 573.0,53.0 489.0,125.3 468.0,143.8 448.5,162.1 430.9,180.0 415.5,197.4 402.0,214.5 391.5,229.5 381.4,246.0 373.4,261.0 365.8,277.5 359.6,294.0 354.0,312.0 349.4,330.0 340.3,370.5 334.2,391.5 329.5,403.5 324.3,414.0 318.6,423.0 312.7,430.5 304.5,438.8 295.5,445.9 285.0,452.5 273.0,458.6 261.0,463.4 250.5,466.5 238.5,468.7 228.0,469.2 220.5,468.9 211.5,467.8 202.5,465.9 193.5,463.5 172.5,456.5 135.0,442.2 135.0,15.0ZM428.0,690.0 430.5,689.2 433.5,689.6 441.0,693.1 453.0,696.4 454.9,697.5 456.4,699.0 460.9,705.0 463.5,706.7 468.0,707.8 472.5,708.0 480.0,706.3 484.5,706.4 488.1,708.0 490.0,711.0 490.4,715.5 489.0,722.4 489.0,724.5 493.0,736.5 493.1,739.5 492.4,742.5 489.7,745.5 486.0,748.4 481.5,749.9 478.5,751.4 466.5,760.6 463.5,761.9 459.0,762.3 457.5,763.3 456.0,766.2 450.8,780.0 179.6,780.0 186.6,765.0 189.7,756.0 189.8,751.5 187.5,745.5 186.4,741.0 186.9,732.0 185.6,723.0 186.0,721.5 187.2,720.0 192.0,717.3 196.5,716.3 199.5,716.6 201.0,717.2 203.9,720.0 207.5,726.0 211.5,728.3 217.5,729.3 223.5,729.0 231.0,727.6 238.5,725.1 247.5,720.9 264.0,711.8 274.5,708.1 285.0,705.9 309.0,702.8 315.0,702.4 318.0,702.6 322.5,703.6 339.0,710.6 360.0,716.1 372.0,718.0 378.0,718.1 382.5,717.8 391.5,715.8 396.0,714.1 400.5,711.7 408.0,706.4 423.0,693.0 428.0,690.0Z"/>
<path fill="#8080ff" d="M135.0,15.0 568.2,15.0 489.0,84.0 463.5,106.9 444.0,125.2 426.0,143.2 409.5,160.9 394.5,178.5 381.8,195.0 371.3,210.0 360.9,226.5 352.5,241.5 344.3,258.0 337.2,274.5 330.4,292.5 324.8,309.0 313.1,346.5 306.6,364.5 302.7,373.5 298.0,382.5 293.4,390.0 287.7,397.5 282.0,403.7 274.5,410.2 266.5,415.5 258.0,419.9 249.0,423.2 240.0,425.4 231.0,426.7 222.0,427.0 214.5,426.7 205.5,425.8 187.5,422.2 166.5,416.2 135.0,405.6 135.0,15.0ZM312.4,709.5 316.5,709.4 321.0,710.5 334.5,716.9 340.5,721.2 345.0,723.6 354.0,726.9 366.0,730.1 375.0,731.7 384.0,732.5 394.5,732.5 412.5,731.1 417.0,731.5 420.0,732.7 421.5,734.0 423.0,736.5 424.4,742.5 424.7,748.5 424.3,780.0 196.9,780.0 208.7,753.0 212.1,748.5 216.3,745.5 237.0,734.8 261.0,720.4 267.0,717.3 273.0,715.5 285.0,713.1 312.4,709.5Z"/>
<path fill="#6c6cff" d="M135.0,15.0 515.1,15.0 454.5,70.7 419.0,105.0 403.1,121.5 388.5,137.5 375.3,153.0 363.0,168.5 353.3,181.5 343.9,195.0 335.2,208.5 326.2,223.5 317.9,238.5 309.5,255.0 286.5,304.1 279.0,319.2 270.0,334.7 265.5,341.2 260.0,348.0 253.5,354.7 247.5,359.6 241.5,363.6 234.0,367.5 226.5,370.3 219.0,372.1 210.0,373.4 201.0,373.9 187.5,373.2 172.5,371.2 156.0,367.8 135.0,362.6 135.0,15.0ZM311.9,718.5 315.0,718.5 318.0,719.3 331.5,730.0 337.5,733.9 346.5,738.5 372.2,750.0 377.8,753.0 382.4,756.0 387.6,760.5 392.2,766.5 395.3,772.5 397.7,780.0 213.5,780.0 217.6,771.0 220.8,765.0 224.8,759.0 228.6,754.5 234.7,748.5 241.7,742.5 253.0,733.5 259.5,728.9 264.8,726.0 270.0,723.8 288.0,719.6 295.5,718.7 306.0,719.0 311.9,718.5Z"/>
<path fill="#5858ff" d="M135.0,15.0 460.9,15.0 420.0,54.7 393.0,81.9 368.6,108.0 346.5,133.5 327.3,157.5 309.6,181.5 294.1,204.0 267.0,244.9 256.5,259.9 246.0,273.5 236.9,283.5 228.9,291.0 220.5,297.4 213.0,302.0 204.0,306.2 195.0,309.3 184.5,311.6 174.0,312.9 163.5,313.3 150.0,312.8 135.0,311.3 135.0,15.0ZM286.5,727.5 292.5,726.2 297.0,726.2 309.0,728.9 315.0,731.7 333.0,745.7 348.9,757.5 356.2,763.5 363.6,771.0 367.0,775.5 369.7,780.0 229.9,780.0 234.7,769.5 240.2,760.5 248.4,750.0 257.0,741.0 262.5,736.6 268.5,733.2 275.6,730.5 286.5,727.5Z"/>
<path fill="#4545ff" d="M135.0,15.0 404.7,15.0 366.0,54.6 336.9,85.5 306.1,120.0 249.0,186.7 234.0,202.7 220.5,215.4 210.0,224.0 201.0,230.3 190.5,236.5 180.0,241.5 169.5,245.3 159.0,248.1 147.0,250.2 135.0,251.5 135.0,15.0ZM287.8,738.0 294.0,737.5 298.5,738.3 304.5,740.7 310.5,744.6 318.4,751.5 330.1,763.5 337.6,772.5 342.6,780.0 247.3,780.0 250.8,771.0 254.6,763.5 259.5,756.0 264.0,750.6 268.5,746.5 274.5,742.7 282.0,739.5 287.8,738.0Z"/>
<path fill="#3131ff" d="M135.0,15.0 344.3,15.0 283.5,77.4 256.5,104.6 234.0,126.0 214.5,142.9 204.0,151.0 195.0,157.5 184.5,164.2 175.5,169.3 166.0,174.0 156.0,178.3 145.5,182.0 135.0,185.0 135.0,15.0ZM287.0,760.5 291.0,760.1 294.0,760.6 297.0,761.8 300.0,763.7 303.3,766.5 307.3,771.0 310.5,775.5 313.0,780.0 270.6,780.0 273.6,772.5 277.5,766.7 282.0,762.7 287.0,760.5Z"/>
<path fill="#1e1eff" d="M135.0,15.0 274.5,15.0 252.0,35.8 232.5,52.9 214.5,67.5 198.0,79.8 181.5,90.9 166.5,99.7 151.5,107.3 135.0,114.3 135.0,15.0Z"/>
<path fill="#0a0aff" d="M135.0,15.0 180.1,15.0 157.5,28.7 135.0,40.2 135.0,15.0Z"/><rect x="308" y="105" width="124" height="233" fill="#fff5f5"/>
<path fill="#ffe2e2" d="M326.0,105.0 361.4,105.0 365.0,108.9 369.5,115.1 377.6,127.5 387.5,140.4 390.0,145.5 390.5,148.5 389.7,153.0 383.7,165.0 382.7,168.0 382.2,171.0 382.4,174.0 383.4,177.0 385.3,180.0 387.5,182.0 393.5,184.6 398.0,185.5 404.0,186.2 414.5,185.9 432.5,183.9 432.5,339.0 371.4,339.0 367.4,325.5 364.9,319.5 361.9,313.5 359.8,310.5 358.0,309.0 356.0,308.1 353.0,307.6 350.0,307.8 347.0,308.9 344.6,310.5 342.0,313.5 340.3,318.0 338.2,331.5 336.2,339.0 308.0,339.0 308.0,245.7 317.0,242.4 324.5,239.0 329.0,236.4 335.0,231.9 339.1,228.0 342.2,223.5 344.1,219.0 345.0,214.5 344.3,207.0 342.2,199.5 339.5,194.3 331.1,181.5 326.4,172.5 321.2,159.0 317.8,145.5 317.0,139.5 316.6,133.5 316.9,127.5 317.6,123.0 319.1,117.0 321.0,112.5 323.0,108.9 326.0,105.0ZM360.5,285.7 359.0,286.8 357.9,289.5 358.0,292.5 359.2,295.5 360.5,297.4 362.0,298.6 363.5,299.1 365.0,299.1 368.0,298.0 369.5,296.7 370.8,294.0 370.8,292.5 369.5,289.6 368.0,287.9 365.0,286.0 362.0,285.4 360.5,285.7Z"/>
<path fill="#ffcece" d="M366.1,192.0 368.0,191.3 371.0,191.1 375.5,192.3 380.5,195.0 392.0,203.2 398.0,206.2 404.0,207.7 422.0,210.6 432.5,213.9 432.5,329.2 419.0,320.5 413.0,315.7 408.5,311.4 404.0,305.8 396.2,291.0 394.2,288.0 392.0,285.6 389.0,284.0 381.5,284.3 377.0,283.6 374.0,282.0 371.6,279.0 370.5,276.0 370.0,273.0 369.3,255.0 368.8,250.5 367.5,246.0 363.4,237.0 362.0,231.0 362.7,216.0 361.5,204.0 361.5,199.5 363.0,195.0 364.1,193.5 366.1,192.0Z"/>
<path fill="#ffbaba" d="M402.8,231.0 405.5,230.1 407.0,230.3 408.5,231.1 409.8,232.5 411.0,235.5 410.8,237.0 410.0,238.5 408.5,239.7 405.5,240.2 404.0,239.7 402.3,238.5 401.3,237.0 400.9,234.0 401.5,232.5 402.8,231.0ZM399.4,258.0 402.5,257.8 405.9,259.5 407.1,261.0 407.5,262.5 407.3,264.0 406.1,265.5 404.0,266.3 401.0,266.2 399.3,265.5 397.5,264.0 396.7,262.5 396.6,261.0 397.2,259.5 399.4,258.0Z"/><rect x="615" y="40" width="26" height="34" fill="#a7a7ff"/></g></g>
<g fill="none" stroke="#2a1c1c" stroke-width="0.9" stroke-linejoin="round" clip-path="url(#land)">
<path d="M763.0,184.8 L754.4,181.0 L745.0,182.5 L734.8,180.0 L727.8,184.8 L721.6,188.0 L713.8,189.5 L709.0,193.4 L710.6,198.0 L708.3,202.8 L710.6,207.5 L707.5,212.0 L705.0,215.3"/>
<path d="M679.4,193.4 L681.0,201.0 L684.0,206.7 L687.0,209.0 L689.5,207.5 L693.4,211.4 L698.0,214.5 L702.0,216.9 L705.0,215.3 L713.8,215.3 L715.3,221.6 L716.9,229.4 L718.4,237.2 L717.7,243.4 L721.6,249.7 L725.5,256.0 L727.0,263.8 L725.5,270.0 L727.8,277.8 L732.5,277.8 L740.3,278.6 L745.0,282.5 L746.0,283.5"/>
<path d="M652.0,231.7 L657.5,237.2 L662.2,243.4 L664.5,238.8 L670.0,237.5 L677.8,239.5 L685.6,241.9 L693.4,245.0 L699.7,248.0 L705.0,251.2 L705.0,260.6 L704.4,266.9 L707.5,276.2 L709.8,284.0 L707.5,291.9 L710.6,296.6 L716.9,298.0 L723.0,301.2 L726.2,307.5 L732.5,307.5 L738.8,301.2 L745.0,295.0 L748.0,294.0"/>
<path d="M643.4,240.3 L645.0,245.0 L638.8,251.2 L641.9,256.0 L648.9,255.0 L648.0,262.0 L643.4,268.4 L634.0,270.0 L626.2,272.3 L624.7,263.8 L623.0,252.8"/>
<path d="M626.2,272.3 L630.0,274.7 L629.4,282.5 L634.0,288.8 L635.3,295.5 L634.2,296.2 L628.8,301.0 L624.0,307.0 L616.2,305.6 L606.9,308.0 L602.2,314.2 L604.5,318.0 L608.4,322.0 L602.2,327.5 L605.3,330.6 L610.0,335.3 L608.4,341.6 L611.6,343.9"/>
<path d="M635.3,295.5 L636.6,299.4 L641.2,305.6 L646.0,309.5 L653.8,308.8 L661.6,311.9 L667.0,315.0 L666.2,323.0 L663.0,330.6 L656.9,338.4 L652.2,346.2 L644.4,351.0 L642.8,358.8"/>
<path d="M719.4,332.0 L716.2,336.9 L708.4,335.3 L697.5,337.7 L691.2,332.2 L683.4,327.5 L675.6,323.6 L666.2,323.0"/>
<path d="M719.4,332.0 L730.0,328.0 L742.0,322.0 L752.0,316.0 L760.0,312.0"/>
<path d="M611.6,343.9 L619.4,351.0 L624.0,357.2 L631.9,357.2 L642.8,359.5 L641.2,368.0 L641.2,374.4 L647.5,380.6 L650.6,388.4 L654.5,394.7 L655.3,401.0 L660.8,405.6 L660.8,415.0 L653.8,420.5 L650.6,427.5 L649.0,432.0 L644.0,440.0 L638.0,448.0 L634.0,452.5"/>
<path d="M611.6,343.9 L605.3,347.8 L601.4,350.0 L596.0,354.0 L593.6,359.5 L587.0,364.8"/>
<path d="M492.5,371.9 L498.8,368.0 L506.6,370.3 L516.0,371.9 L526.9,368.0 L530.0,363.3 L534.0,362.5 L534.7,367.2 L538.6,369.5 L540.2,374.2 L544.0,373.4 L545.6,378.9 L547.2,383.6 L543.3,385.9 L540.2,392.2 L536.2,396.9 L532.3,394.5 L533.0,403.9 L519.0,409.4 L510.5,414.8 L505.0,419.5 L503.5,417.0 L505.0,410.9 L501.9,400.0 L497.2,398.4 L492.5,393.0 L491.7,385.9 L496.4,384.4 L497.2,373.4 L498.8,368.0"/>
<path d="M496.4,384.4 L505.0,387.5 L515.0,386.7 L516.0,377.3 L516.0,371.9"/>
<path d="M506.5,389.0 L508.5,386.5 L509.3,387.2 L507.3,389.7 L506.5,389.0"/>
<path d="M547.2,383.6 L552.7,382.8 L553.4,378.0 L557.3,374.2 L561.2,372.7 L562.0,375.8 L565.0,378.0 L569.0,385.9 L573.8,388.3 L580.0,385.9 L585.5,384.4"/>
<path d="M565.0,378.0 L569.0,369.5 L574.5,364.0 L581.6,363.3 L587.0,364.8"/>
<path d="M587.0,364.8 L584.0,370.3 L587.0,378.0 L585.5,384.4"/>
<path d="M585.5,384.4 L587.8,391.4 L595.6,394.5 L598.8,403.0 L603.4,412.5 L609.7,417.2 L614.4,411.7 L622.2,415.6 L624.5,425.0 L626.0,434.4"/>
<path d="M552.7,382.8 L556.6,385.0 L557.3,390.6 L562.8,395.3 L566.7,403.0 L566.0,408.6 L572.2,411.7 L578.4,414.0 L583.0,418.8 L589.4,423.4 L595.6,428.0 L603.4,432.8 L611.2,436.0 L619.0,434.4 L626.0,434.4 L630.0,442.2 L634.7,451.6 L639.4,454.7 L644.0,457.0 L646.0,463.0 L640.0,470.0 L634.7,473.4 L633.0,478.0 L634.0,481.0"/>
<path d="M519.0,409.4 L517.5,418.8 L518.3,428.0 L519.0,439.0 L518.3,445.3 L521.4,453.0 L523.0,457.0 L525.3,456.2 L526.9,461.0 L534.0,464.0 L537.8,470.3 L542.5,471.0 L544.0,467.2 L540.5,466.5 L541.0,463.3 L545.6,461.0 L551.0,459.4 L551.0,453.0 L555.0,447.7 L551.0,442.2 L548.0,433.6 L544.0,440.6 L537.8,436.0 L530.0,429.7 L522.2,424.2 L517.5,418.8"/>
<path d="M555.0,447.7 L564.4,446.9 L573.8,450.0 L578.4,447.7 L583.0,450.8 L588.6,453.0 L587.8,462.5 L583.0,470.3 L584.7,479.7 L589.4,487.5 L592.8,496.6 L598.7,500.5 L604.5,494.6 L614.3,495.6 L617.0,497.0"/>
<path d="M592.8,496.6 L583.0,497.5 L573.2,498.5 L570.3,495.6 L569.3,501.4 L561.4,505.4 L557.5,511.2 L549.7,510.3 L544.8,508.3 L541.9,515.2 L541.9,521.0 L536.0,526.9 L536.0,536.7 L529.0,543.6 L524.2,546.5 L520.3,558.0 L516.2,579.2 L512.3,585.0 L507.4,592.0 L505.4,592.9"/>
<path d="M472.3,432.0 L478.2,433.9 L477.2,438.8 L482.0,445.6 L478.2,454.4 L475.3,463.2 L470.4,464.2 L465.5,458.4 L458.6,462.3 L455.7,457.4 L456.7,451.5 L453.7,448.6"/>
<path d="M470.4,464.2 L465.5,476.0 L461.5,486.8 L465.5,497.5 L469.4,507.3 L461.5,519.0 L453.7,530.8 L448.8,540.6 L447.6,549.8 L453.5,561.5 L456.4,569.4 L455.5,578.2 L449.6,588.0 L445.7,594.8 L438.8,593.9 L436.6,596.0 L430.7,597.0 L424.8,597.0"/>
<path d="M461.5,486.8 L458.6,487.7 L457.6,491.7 L462.5,499.5 L465.5,497.5"/>
<path d="M431.7,499.0 L434.7,487.0 L441.6,479.2 L446.5,478.2 L444.6,485.0 L449.5,491.0 L454.5,497.0 L447.5,495.0 L442.6,494.0 L438.6,498.0 L431.7,499.0"/>
<path d="M470.0,571.3 L473.0,565.5 L478.0,558.0 L480.0,548.0 L482.0,528.9 L484.0,511.2 L488.0,507.3 L491.9,508.3 L493.9,513.2 L498.8,516.0 L502.7,526.9 L508.6,525.0 L513.5,521.0 L517.4,526.9 L515.4,532.8 L520.3,536.7 L524.2,540.6 L528.0,542.6"/>
<path d="M524.2,546.5 L520.3,542.6 L514.4,538.7 L508.6,540.6 L505.4,547.8 L503.5,553.7 L507.4,559.6 L510.3,563.5 L505.4,567.4 L504.4,581.0 L505.4,592.9"/>
<path d="M456.4,569.4 L470.0,571.3 L472.0,575.3 L480.9,577.2 L487.8,572.3 L496.6,577.2 L504.4,581.0"/>
<path d="M505.4,592.9 L510.3,591.0 L516.2,587.0 L520.0,591.0 L522.0,594.8 L527.0,592.9 L528.0,586.0 L535.8,581.0 L537.7,585.0 L533.8,590.0 L536.8,594.8 L542.6,589.0 L547.5,586.0 L555.4,588.0 L563.2,591.0 L564.2,602.7 L571.0,607.6 L578.9,613.5 L579.9,626.2 L582.8,636.0 L585.7,641.9 L586.0,644.0"/>
<path d="M505.4,592.9 L508.4,597.8 L516.2,607.6 L508.4,615.4 L504.4,624.2 L500.5,636.0 L496.6,641.9 L492.7,653.6 L486.8,665.4 L484.9,677.0 L488.8,683.0 L494.6,682.0 L500.5,686.0 L508.4,683.0 L514.2,687.9 L522.0,688.9 L528.0,696.7 L531.9,702.6 L533.8,710.4 L534.0,712.5"/>
<path d="M488.8,683.0 L482.9,692.8 L477.0,702.6 L471.0,712.4 L467.5,720.0 L463.8,727.5"/>
<path d="M424.0,659.0 L430.0,653.6 L437.8,649.7 L443.7,646.8 L447.6,642.8 L454.5,639.9 L459.4,643.8 L460.4,651.6 L460.4,659.5 L463.3,663.4 L464.3,673.2 L468.2,685.0 L463.3,688.9 L459.4,689.9 L453.5,696.7 L450.6,706.5 L455.0,715.0 L462.5,722.5 L465.0,727.5"/>
<path d="M378.2,539.0 L385.0,542.6 L395.0,546.5 L405.0,550.5 L412.9,554.5 L414.9,558.4 L408.9,561.4 L405.9,570.3 L410.9,576.2 L413.9,581.2 L418.8,583.2 L420.8,589.0 L424.8,597.0 L418.8,605.0 L411.9,610.0 L410.9,620.8 L413.9,628.7 L415.8,638.6 L414.9,648.5 L410.9,653.5 L409.0,654.5"/>
<path d="M438.6,599.0 L440.6,593.0 L447.5,592.0 L445.7,594.8"/>
<path d="M273.0,607.0 L275.3,625.0 L277.6,636.9 L278.8,651.0 L280.0,665.0 L281.0,679.0 L284.7,688.4 L277.6,694.3 L270.6,700.0 L262.4,703.7 L256.6,706.0"/>
<path d="M303.4,648.6 L308.0,645.0 L317.5,645.0 L324.5,638.0 L331.5,640.4 L335.0,640.4 L335.0,648.6 L332.7,653.3 L336.2,660.3 L339.7,669.7 L350.3,674.4 L359.7,679.0 L366.7,676.7 L369.0,673.0"/>
<path d="M303.4,648.6 L297.6,653.3 L291.7,660.3 L292.9,669.7 L290.5,679.0 L296.4,690.8 L303.4,689.6 L315.0,690.8 L319.8,693.0 L324.5,681.4 L326.9,669.7 L324.5,662.7 L317.5,669.7 L315.0,675.5 L310.5,674.4 L304.6,680.2 L296.4,683.8 L290.5,679.0"/>
<path d="M284.7,682.6 L290.5,687.3 L296.4,690.8"/>
</g>
<g fill="none" stroke="#000" stroke-width="2.6" stroke-linejoin="round">
<path d="M722.5,21.0 L722.3,23.5 L726.0,25.0 L728.3,26.6 L731.4,27.3 L734.0,29.0 L736.8,28.6 L739.4,31.3 L740.0,32.5 L742.3,33.2 L744.8,33.2 L747.5,34.0 L749.7,34.9 L750.5,37.6 L752.5,39.0 L754.8,40.1 L758.1,39.6 L759.8,40.2 L762.5,40.0 L765.2,40.2 L767.2,42.4 L770.0,41.0 L772.1,42.4 L773.7,43.0 L775.0,45.0 L774.2,47.2 L775.0,49.0 L772.7,50.0 L771.0,51.0 L774.9,52.5 L774.0,56.0 L774.5,57.8 L772.7,60.5 L772.5,62.5 L773.5,64.5 L774.0,67.5 L773.0,70.0 L770.7,72.3 L771.0,75.0 L770.4,77.9 L770.6,79.7 L770.0,82.5 L770.0,85.3 L771.0,87.5 L772.8,88.0 L775.0,89.0 L775.5,90.7 L777.0,94.0 L778.5,96.2 L781.7,96.3 L782.5,99.0 L785.6,99.3 L787.5,101.0 L790.4,100.2 L792.6,103.7 L795.0,104.0 L796.9,101.6 L799.8,103.3 L802.5,102.5 L804.0,104.8 L807.5,105.0 L809.5,106.4 L812.5,107.5 L812.7,110.0 L815.0,111.0 L816.5,112.0 L817.5,115.6 L820.0,116.0 L821.0,118.9 L822.3,120.3 L824.0,122.5 L826.1,124.0 L826.0,127.2 L829.0,129.0 L829.5,130.9 L828.8,133.2 L829.0,135.0 L828.2,137.4 L825.0,139.0 L823.4,141.4 L821.7,142.7 L821.0,145.0 L820.6,147.7 L819.8,150.3 L819.0,152.5 L817.1,154.3 L814.5,155.0 L812.5,156.0 L809.5,158.1 L806.9,158.6 L806.0,161.0 L805.1,163.8 L802.1,164.2 L800.0,165.0 L799.0,168.5 L795.7,167.3 L794.0,170.0 L791.8,170.1 L789.5,168.2 L787.5,167.5 L784.5,166.5 L782.5,169.0 L780.6,167.0 L778.8,164.8 L776.0,165.0 L773.9,164.1 L771.6,165.8 L769.0,166.0 L766.7,167.8 L767.3,170.3 L766.0,172.5 L765.0,174.6 L765.4,177.9 L764.0,180.0 L762.1,182.7 L765.1,184.5 L765.0,187.5 L765.9,190.3 L763.7,192.4 L763.9,195.0 L764.0,197.5 L764.3,199.7 L765.0,203.0 L764.4,205.8 L763.7,208.4 L762.0,211.0 L762.4,213.6 L760.6,216.1 L761.0,219.0 L763.3,220.8 L765.0,222.5 L764.0,225.2 L766.1,227.4 L764.0,229.0 L762.1,231.0 L758.9,232.0 L757.5,234.0 L755.8,236.6 L754.5,239.2 L755.0,242.5 L754.8,245.6 L754.7,249.0 L754.0,251.0 L751.3,252.4 L751.0,254.0 L750.7,256.7 L750.2,259.9 L750.0,262.5 L750.9,264.7 L750.8,267.4 L751.0,269.0 L750.8,271.5 L750.3,272.9 L749.0,275.0 L748.8,277.3 L746.7,280.3 L746.0,282.5 L745.9,285.2 L744.5,287.6 L746.0,290.0 L746.8,292.5 L749.4,294.7 L749.0,297.5 L752.1,298.9 L752.6,302.1 L754.0,304.0 L755.0,305.4 L756.0,307.4 L757.5,309.0 L759.3,310.6 L760.9,312.2 L762.5,314.0 L764.4,312.8 L766.3,311.1 L769.0,312.5 L771.9,311.4 L774.0,312.5 L773.4,314.3 L775.2,316.8 L776.0,319.0 L778.4,320.6 L779.0,322.2 L780.5,325.0 L779.2,327.6 L777.5,330.0 L775.9,331.5 L773.2,333.5 L772.8,336.2 L770.0,337.5 L768.9,339.2 L766.2,340.4 L767.2,343.4 L765.0,345.0 L762.5,347.1 L761.3,348.2 L759.1,349.1 L757.5,351.0 L754.9,352.5 L755.6,355.4 L755.2,357.2 L755.0,360.0 L752.2,361.3 L752.2,364.2 L750.9,367.3 L749.0,369.0 L746.8,370.7 L745.3,372.6 L745.0,375.0 L745.5,377.8 L746.0,380.0 L743.9,381.1 L741.7,382.8 L740.7,384.3 L739.0,386.0 L736.4,387.3 L735.8,388.8 L734.0,390.0 L731.2,391.8 L729.7,394.5 L726.2,393.4 L724.0,396.0 L722.2,398.1 L723.5,400.5 L722.5,402.5 L724.2,404.6 L721.6,407.4 L722.0,410.2 L724.0,412.5 L724.4,415.4 L728.1,416.5 L727.5,420.0 L727.8,422.1 L729.7,424.9 L729.5,426.8 L730.2,430.2 L730.0,432.5 L730.7,435.3 L729.1,437.6 L731.7,439.4 L731.0,442.5 L732.3,444.9 L733.2,447.1 L734.5,449.0 L734.2,451.2 L733.6,453.0 L732.5,455.0 L731.2,456.6 L728.7,456.6 L726.0,457.0 L723.4,456.7 L721.0,454.6 L720.0,454.0 L717.8,452.9 L715.0,452.6 L712.5,453.0 L709.7,454.2 L708.7,454.5 L705.0,454.5 L702.3,455.3 L700.0,457.5 L699.4,455.1 L695.5,454.5 L695.0,452.5 L692.4,453.5 L690.0,451.2 L687.5,452.5 L685.3,453.4 L683.2,453.4 L681.0,455.0 L680.3,457.7 L678.7,459.8 L681.4,462.8 L680.5,465.0 L680.5,467.4 L679.6,469.9 L680.0,471.8 L679.0,474.0 L677.3,476.7 L674.0,475.0 L672.4,473.1 L669.8,474.5 L667.3,472.6 L665.0,472.5 L663.2,474.4 L660.7,474.1 L659.0,475.0 L656.2,475.9 L654.5,475.1 L652.4,476.2 L650.0,476.0 L647.3,476.2 L644.4,477.2 L642.5,479.0 L639.1,478.6 L637.5,480.2 L634.0,481.0 L631.2,480.7 L628.8,480.9 L626.6,481.4 L624.0,481.0 L622.6,483.6 L620.7,484.1 L619.0,486.0 L619.4,488.8 L616.2,490.8 L617.2,494.2 L616.0,496.0 L616.4,499.1 L618.3,501.1 L620.0,502.5 L621.9,504.7 L624.9,505.6 L626.0,507.5 L626.3,510.8 L628.6,512.5 L626.2,515.0 L627.5,517.5 L625.9,520.1 L624.8,522.1 L624.0,525.0 L623.7,527.9 L622.1,529.9 L622.8,532.6 L622.5,535.0 L621.2,536.9 L622.7,540.3 L622.0,542.5 L620.4,545.2 L620.0,547.5 L619.1,550.2 L618.1,552.4 L616.9,553.7 L614.0,555.0 L612.0,556.7 L611.5,559.7 L608.9,561.3 L607.4,564.1 L606.0,566.0 L607.5,568.3 L608.6,571.6 L609.0,574.0 L610.2,577.2 L612.3,578.6 L614.0,581.0 L614.2,583.7 L616.0,586.0 L618.4,584.3 L618.8,581.6 L621.0,580.0 L622.7,582.3 L621.5,585.0 L624.3,584.9 L626.0,587.5 L627.2,590.1 L629.7,592.3 L630.0,595.0 L631.6,597.3 L630.3,599.6 L630.0,603.0 L631.0,605.0 L631.9,607.2 L629.7,609.9 L630.9,612.6 L629.5,615.0 L629.0,617.5 L628.3,620.1 L627.4,623.0 L628.4,625.4 L629.0,627.5 L629.0,630.7 L632.1,632.4 L632.0,635.0 L632.6,638.1 L633.0,640.2 L633.3,643.2 L634.0,645.0 L633.1,647.4 L632.3,649.8 L631.6,652.5 L631.0,655.0 L631.1,658.2 L631.9,660.0 L632.0,662.7 L632.0,665.0 L632.7,667.4 L631.3,670.2 L630.9,672.3 L630.5,675.0 L630.9,677.8 L628.4,679.9 L629.2,682.6 L629.0,685.0 L629.1,687.6 L627.5,690.0 L626.4,688.0 L626.0,686.4 L625.0,684.0 L621.9,683.0 L619.9,684.2 L617.5,684.0 L614.8,682.7 L611.5,683.0 L610.0,681.0 L609.3,678.1 L609.6,676.1 L609.1,673.2 L609.0,671.0 L606.8,669.2 L605.7,667.1 L604.0,664.0 L603.2,661.1 L600.5,659.7 L598.5,658.6 L597.5,656.0 L596.9,652.5 L593.2,653.5 L592.5,649.0 L589.5,647.8 L588.0,646.1 L586.0,644.0 L584.6,646.0 L584.0,649.0 L583.4,651.8 L582.8,654.1 L583.4,656.8 L582.5,659.0 L580.2,661.6 L576.8,661.1 L576.0,665.0 L575.2,667.9 L571.5,667.6 L570.0,669.0 L567.3,669.2 L564.9,672.2 L562.5,672.5 L559.9,674.4 L557.3,674.4 L555.0,675.0 L552.4,674.5 L550.8,674.5 L548.2,675.1 L546.0,675.5 L545.4,678.3 L545.8,680.0 L545.9,682.6 L545.0,685.0 L544.5,687.3 L544.5,690.2 L545.9,692.0 L546.0,695.0 L546.5,697.8 L549.0,700.0 L548.0,702.5 L546.5,704.9 L547.6,707.9 L546.9,708.9 L548.0,711.5 L545.7,711.4 L544.2,711.4 L541.0,711.0 L538.7,710.8 L536.4,711.8 L534.0,712.5 L532.3,714.6 L532.6,717.9 L529.9,719.4 L530.0,722.5 L530.3,725.5 L533.4,727.4 L534.0,729.5 L534.1,732.2 L533.4,734.1 L532.5,736.0 L530.8,737.8 L527.5,736.7 L525.7,738.3 L523.6,738.7 L521.0,740.0 L518.9,741.9 L516.5,742.6 L513.6,743.0 L511.0,744.0 L507.6,744.6 L504.8,743.8 L502.5,745.0 L502.6,747.3 L504.1,749.8 L504.7,752.2 L503.0,755.0 L501.9,757.7 L501.4,759.1 L501.5,761.4 L501.5,764.0 L499.2,763.9 L496.1,764.9 L495.0,766.0 L492.2,768.3 L491.6,770.1 L490.0,772.5 L487.7,770.7 L485.9,772.0 L484.0,771.0 L481.7,770.9 L481.2,768.0 L479.0,767.5 L477.2,767.6 L474.5,766.1 L472.5,766.0 L470.7,767.8 L470.6,771.1 L468.8,772.0 L467.5,774.0 L466.3,773.7 L464.0,775.0 L463.5,772.6 L463.2,769.5 L462.5,767.5 L461.6,765.8 L459.0,763.9 L458.0,762.1 L456.0,760.0 L455.4,757.3 L457.5,756.0 L459.4,754.6 L460.2,751.1 L462.5,751.0 L459.2,749.0 L462.7,744.9 L460.0,742.5 L460.5,740.1 L461.8,737.4 L461.0,734.0 L462.2,731.4 L462.2,728.0 L464.0,726.0 L461.8,726.0 L460.8,723.8 L459.0,722.5 L456.6,721.1 L454.6,721.1 L452.2,720.4 L450.0,719.0 L448.5,717.1 L446.2,716.0 L444.0,715.0 L441.6,713.2 L439.9,711.6 L439.0,709.0 L438.9,706.1 L436.0,704.0 L434.4,703.0 L432.2,702.0 L430.0,700.0 L429.7,697.7 L430.1,694.4 L430.3,692.3 L430.0,690.0 L429.8,687.6 L429.0,685.7 L429.7,681.9 L429.5,680.0 L429.5,677.6 L430.0,674.9 L427.5,673.0 L427.5,670.0 L425.8,667.6 L427.5,664.0 L424.1,662.2 L424.0,659.0 L421.9,658.9 L418.4,658.2 L416.0,658.0 L413.6,656.5 L411.4,657.0 L409.0,654.5 L405.6,654.3 L404.0,657.5 L401.0,657.0 L398.8,657.9 L397.1,658.4 L395.0,659.5 L392.4,659.5 L390.7,659.8 L387.5,660.0 L387.0,663.5 L383.9,664.0 L381.0,664.0 L378.4,664.6 L376.8,666.6 L374.5,667.5 L372.1,668.4 L370.1,670.8 L369.0,673.0 L367.4,675.3 L367.1,677.6 L366.5,679.2 L364.5,681.0 L364.3,684.1 L363.3,686.6 L362.3,689.6 L360.5,691.5 L357.7,692.5 L356.4,694.5 L354.8,696.0 L355.0,699.0 L351.7,700.6 L349.7,699.4 L346.5,699.5 L345.7,701.6 L343.5,703.6 L341.5,706.0 L339.5,708.6 L341.7,711.2 L339.5,714.0 L340.1,715.5 L339.8,718.5 L340.6,720.5 L340.0,723.0 L339.1,725.4 L338.0,726.8 L339.0,729.0 L337.1,729.8 L336.0,732.0 L335.5,729.8 L334.8,727.5 L333.0,725.0 L330.4,723.6 L329.0,721.0 L326.9,721.0 L324.1,722.8 L321.5,723.0 L319.6,722.9 L317.3,723.2 L315.0,723.5 L311.9,723.8 L311.6,726.8 L308.0,727.5 L305.3,728.4 L303.1,729.2 L301.9,730.4 L299.0,731.0 L296.4,730.0 L294.2,729.8 L291.0,730.0 L288.8,731.1 L286.2,731.9 L284.0,734.0 L282.4,736.3 L278.9,737.2 L277.5,740.0 L277.1,742.5 L275.8,745.9 L274.0,747.5 L272.5,750.1 L269.0,750.0 L267.4,747.6 L265.4,746.6 L264.0,745.0 L261.9,742.9 L259.2,742.0 L257.5,741.0 L255.5,738.7 L254.0,737.5 L254.5,734.6 L255.1,733.1 L257.5,731.0 L257.5,729.2 L257.0,727.3 L256.0,725.0 L258.7,723.9 L258.3,720.3 L260.5,719.0 L260.9,716.4 L259.9,712.8 L259.0,711.0 L257.3,708.7 L254.2,707.9 L252.5,706.0 L251.1,707.3 L247.9,706.6 L245.0,706.0 L242.8,703.8 L240.2,705.6 L237.5,704.0 L235.4,702.6 L232.3,702.4 L230.0,701.0 L227.7,701.3 L225.0,701.7 L223.6,700.5 L221.0,702.5 L217.7,700.7 L215.4,702.3 L212.5,704.0 L211.5,706.0 L210.9,708.3 L210.5,710.0 L210.7,712.2 L212.4,714.8 L212.5,716.9 L214.0,719.0 L213.2,721.4 L213.0,723.6 L211.0,726.0 L208.6,727.4 L208.6,730.0 L207.5,732.5 L204.9,735.1 L205.2,737.7 L204.0,740.0 L202.4,742.9 L200.2,743.2 L199.0,746.0 L196.6,747.0 L195.9,749.2 L195.0,751.0 L193.6,752.6 L190.9,753.0 L189.2,755.8 L187.5,756.0 L185.7,758.0 L183.7,760.6 L180.8,761.4 L179.5,764.0 L179.3,761.9 L177.0,759.9 L176.0,757.5 L175.7,754.5 L173.4,750.9 L175.0,749.0 L173.3,746.9 L173.6,743.9 L172.7,743.1 L171.0,740.0 L170.1,737.2 L170.2,735.4 L168.9,732.0 L171.0,730.0 L170.7,727.6 L169.2,725.0 L167.5,722.9 L167.5,720.0 L166.8,717.2 L166.8,714.6 L164.5,712.5 L164.0,710.0 L163.7,707.9 L165.5,705.2 L164.9,702.3 L165.0,700.0 L163.4,697.5 L164.2,694.9 L163.6,692.7 L162.5,690.0 L159.6,691.3 L157.0,689.5 L155.2,687.9 L152.5,687.5 L150.6,685.5 L149.9,683.4 L148.0,682.4 L146.0,681.0 L143.9,678.9 L142.2,677.0 L140.5,675.0 L152.5,670.5 L165.0,666.0 L177.5,660.5 L190.0,655.0 L202.5,649.5 L215.0,645.0 L225.0,641.0 L234.0,635.0 L242.5,629.0 L251.0,621.0 L257.5,618.0 L265.0,612.5 L272.5,605.0 L279.0,597.5 L282.5,595.0 L292.5,599.0 L302.5,599.0 L312.5,596.0 L320.0,594.0 L330.0,587.5 L332.5,585.0 L345.0,572.5 L357.5,559.0 L370.0,545.0 L382.5,532.5 L392.5,526.0 L402.5,520.0 L414.0,515.0 L422.5,505.0 L430.0,490.0 L435.0,477.5 L439.0,466.0 L445.0,459.0 L450.0,450.0 L457.5,441.0 L467.5,434.0 L474.0,422.0 L480.0,408.0 L485.0,392.5 L489.0,378.0 L491.0,370.0 L495.0,352.5 L500.0,337.5 L507.5,325.0 L520.0,312.5 L535.0,301.0 L550.0,290.0 L565.0,279.0 L577.5,270.0 L592.5,266.0 L605.0,261.0 L617.5,256.0 L629.0,247.5 L642.5,237.5 L652.5,227.5 L662.5,215.0 L670.0,206.0 L677.5,195.0 L682.5,184.0 L685.5,172.5 L689.0,160.0 L692.0,150.0 L691.0,140.0 L692.0,127.5 L692.0,112.5 L692.5,100.0 L695.0,86.0 L699.0,75.0 L704.0,65.0 L709.0,52.5 L714.0,41.0 L719.0,31.0Z"/>
<path d="M399.0,110.5 L401.6,110.9 L404.6,112.1 L407.1,113.7 L410.0,114.0 L409.5,116.8 L407.8,119.9 L407.5,122.5 L407.3,124.7 L407.8,127.9 L407.2,129.6 L407.2,132.2 L407.4,134.9 L407.0,137.5 L406.9,140.2 L406.1,142.4 L405.2,145.1 L405.9,147.6 L405.0,150.1 L404.0,152.5 L403.9,155.4 L402.4,157.8 L402.2,160.7 L401.5,163.2 L400.0,166.0 L399.0,168.1 L397.3,170.6 L398.0,173.5 L396.6,175.6 L395.2,177.3 L394.0,180.0 L392.8,182.5 L391.1,184.5 L389.9,187.1 L389.0,189.9 L387.5,192.5 L386.1,194.9 L385.0,197.3 L385.2,200.1 L385.4,202.6 L384.5,205.0 L383.7,207.3 L384.3,209.7 L384.0,212.0 L384.3,214.5 L386.0,216.9 L387.6,219.4 L389.6,220.5 L391.5,222.0 L394.2,222.9 L395.7,222.6 L397.3,223.8 L399.3,222.9 L400.8,221.0 L402.5,220.0 L405.0,219.8 L407.3,219.9 L410.0,219.5 L411.9,218.0 L413.7,217.3 L416.0,217.0 L418.2,216.4 L420.8,215.6 L422.4,214.9 L425.0,214.5 L426.3,217.0 L425.9,219.9 L426.0,222.5 L425.6,225.0 L425.0,227.5 L423.8,229.9 L423.0,232.9 L422.5,235.0 L421.4,237.1 L419.6,239.7 L419.9,242.9 L418.5,244.9 L417.5,247.5 L416.6,250.0 L414.8,252.7 L413.7,255.2 L411.5,256.8 L411.0,260.0 L409.9,262.4 L409.6,265.0 L408.0,267.6 L407.3,270.1 L406.0,272.5 L404.7,275.1 L403.8,277.7 L403.0,280.7 L402.5,283.0 L400.5,284.7 L398.9,286.4 L397.4,289.0 L395.2,290.6 L394.0,292.5 L392.0,293.9 L388.7,295.0 L387.3,298.0 L385.0,299.0 L383.1,300.3 L380.7,302.1 L377.9,302.7 L376.0,305.0 L374.4,307.3 L372.8,309.5 L370.5,311.9 L369.0,314.0 L366.9,315.2 L365.4,317.8 L363.4,319.1 L361.0,320.5 L358.0,322.3 L355.4,321.6 L352.5,323.0 L349.8,322.1 L347.4,323.7 L345.0,322.0 L342.7,323.5 L340.6,324.5 L337.9,326.0 L336.0,327.0 L333.7,327.1 L332.5,330.1 L331.0,330.5 L329.3,331.6 L326.9,331.8 L325.0,332.5 L322.9,331.1 L320.2,331.2 L317.9,329.6 L316.0,329.0 L314.6,326.8 L313.0,324.0 L313.6,321.2 L315.0,319.5 L317.0,318.2 L320.0,317.0 L322.2,316.3 L324.4,316.9 L327.0,316.2 L329.0,315.5 L330.4,313.7 L333.3,313.0 L334.0,311.0 L335.6,308.8 L336.9,306.6 L337.5,304.0 L337.8,301.7 L338.3,299.0 L340.1,296.8 L339.0,294.0 L338.3,291.7 L336.5,290.5 L335.6,289.0 L335.4,286.1 L337.5,284.0 L339.0,283.4 L340.6,280.7 L342.5,280.0 L343.9,278.2 L345.5,276.2 L347.7,274.6 L349.0,272.5 L350.2,270.4 L351.9,268.0 L353.4,266.1 L354.5,264.0 L353.8,261.6 L352.8,258.6 L352.5,256.0 L351.1,254.4 L348.6,253.1 L347.5,250.9 L346.0,249.0 L343.4,249.2 L340.8,248.8 L338.2,248.5 L336.0,249.0 L334.0,251.0 L332.6,253.8 L331.0,256.0 L330.6,258.4 L329.4,260.2 L330.4,263.2 L329.0,265.0 L326.9,263.7 L324.3,262.9 L323.2,260.9 L321.0,260.0 L321.1,257.4 L321.6,255.0 L322.0,252.5 L320.3,250.0 L320.0,247.5 L319.0,245.0 L319.9,243.5 L321.5,241.2 L322.5,239.0 L322.3,236.1 L322.0,233.1 L322.1,230.6 L322.5,227.5 L322.5,224.9 L323.9,222.7 L323.2,219.6 L324.0,217.1 L325.0,215.0 L326.4,212.6 L327.8,209.7 L329.9,207.8 L331.0,205.0 L333.3,202.7 L334.0,200.6 L335.2,198.2 L337.5,196.0 L338.0,193.9 L338.6,191.4 L338.7,189.3 L341.0,187.5 L343.3,185.3 L343.8,182.5 L345.7,180.3 L346.0,177.5 L347.2,175.3 L348.4,172.6 L349.3,170.0 L351.0,167.5 L353.2,165.9 L355.5,164.8 L358.0,162.3 L360.0,161.0 L362.1,159.1 L364.4,157.8 L365.7,156.3 L367.5,154.0 L368.6,151.8 L369.2,149.2 L370.5,147.2 L372.5,145.0 L375.0,144.5 L377.2,143.4 L379.8,142.9 L382.5,142.5 L383.5,139.9 L385.0,137.5 L385.3,134.9 L386.3,132.5 L386.1,130.1 L387.2,127.6 L387.5,125.0 L388.2,123.0 L387.9,119.4 L390.4,117.3 L391.0,115.0 L393.2,114.2 L394.7,112.9 L397.1,112.1Z"/>
<path d="M633.8,45.6 L636.0,47.2 L634.7,53.1 L632.8,58.8 L629.4,63.8 L625.0,68.1 L621.2,68.4 L620.6,65.0 L622.8,61.2 L623.4,58.1 L627.5,53.8 L629.0,49.4 L631.9,46.6Z" stroke-width="2.6"/>
<path d="M382.6,215.6 L381.2,220 L380.8,226 L383,230 L385.4,231.4 L387.4,228.6 L386.4,224 L384.8,221 L384.6,217 Z" fill="#000" stroke-width="1.6"/>
<circle cx="382.9" cy="219.6" r="0.8" fill="#fff" stroke="none"/>
<circle cx="627.6" cy="690.6" r="1.6" fill="#000" stroke="none"/>
</g>
<g stroke="#000" stroke-width="1.4" fill="none">
<path d="M99.6,42 V833.1 H859.5"/>
<path d="M78.2,42 H99.6"/>
<path d="M78.2,250 H99.6"/>
<path d="M78.2,458 H99.6"/>
<path d="M78.2,666 H99.6"/>
<path d="M99.6,833.1 V854.7"/>
<path d="M251.6,833.1 V854.7"/>
<path d="M403.6,833.1 V854.7"/>
<path d="M555.5,833.1 V854.7"/>
<path d="M707.5,833.1 V854.7"/>
<path d="M859.5,833.1 V854.7"/>
</g>
<g font-size="30.5px" text-anchor="end">
<text transform="translate(66,54.4) scale(0.975,1)">38.5</text>
<text transform="translate(66,262.4) scale(0.975,1)">38.0</text>
<text transform="translate(66,470.4) scale(0.975,1)">37.5</text>
<text transform="translate(66,678.4) scale(0.975,1)">37.0</text>
</g>
<g font-size="30.5px" text-anchor="middle">
<text transform="translate(96.2,893) scale(0.975,1)">137.5</text>
<text transform="translate(248.2,893) scale(0.975,1)">138.0</text>
<text transform="translate(400.2,893) scale(0.975,1)">138.5</text>
<text transform="translate(552.1,893) scale(0.975,1)">139.0</text>
<text transform="translate(704.1,893) scale(0.975,1)">139.5</text>
<text transform="translate(856.1,893) scale(0.975,1)">140.0</text>
</g>
<g shape-rendering="crispEdges">
<rect x="952.1" y="209.1" width="51.8" height="23.3" fill="#ff0a0a"/>
<rect x="952.1" y="231.9" width="51.8" height="23.3" fill="#ff1e1e"/>
<rect x="952.1" y="254.8" width="51.8" height="23.3" fill="#ff3131"/>
<rect x="952.1" y="277.6" width="51.8" height="23.3" fill="#ff4545"/>
<rect x="952.1" y="300.4" width="51.8" height="23.3" fill="#ff5858"/>
<rect x="952.1" y="323.2" width="51.8" height="23.3" fill="#ff6c6c"/>
<rect x="952.1" y="346.1" width="51.8" height="23.3" fill="#ff8080"/>
<rect x="952.1" y="368.9" width="51.8" height="23.3" fill="#ff9393"/>
<rect x="952.1" y="391.7" width="51.8" height="23.3" fill="#ffa7a7"/>
<rect x="952.1" y="414.6" width="51.8" height="23.3" fill="#ffbaba"/>
<rect x="952.1" y="437.4" width="51.8" height="23.3" fill="#ffcece"/>
<rect x="952.1" y="460.2" width="51.8" height="23.3" fill="#ffe2e2"/>
<rect x="952.1" y="483.1" width="51.8" height="23.3" fill="#fff5f5"/>
<rect x="952.1" y="505.9" width="51.8" height="23.3" fill="#f5f5ff"/>
<rect x="952.1" y="528.7" width="51.8" height="23.3" fill="#e2e2ff"/>
<rect x="952.1" y="551.5" width="51.8" height="23.3" fill="#ceceff"/>
<rect x="952.1" y="574.4" width="51.8" height="23.3" fill="#babaff"/>
<rect x="952.1" y="597.2" width="51.8" height="23.3" fill="#a7a7ff"/>
<rect x="952.1" y="620.0" width="51.8" height="23.3" fill="#9393ff"/>
<rect x="952.1" y="642.9" width="51.8" height="23.3" fill="#8080ff"/>
<rect x="952.1" y="665.7" width="51.8" height="23.3" fill="#6c6cff"/>
<rect x="952.1" y="688.5" width="51.8" height="23.3" fill="#5858ff"/>
<rect x="952.1" y="711.4" width="51.8" height="23.3" fill="#4545ff"/>
<rect x="952.1" y="734.2" width="51.8" height="23.3" fill="#3131ff"/>
<rect x="952.1" y="757.0" width="51.8" height="23.3" fill="#1e1eff"/>
<rect x="952.1" y="779.9" width="51.8" height="23.3" fill="#0a0aff"/>
</g>
<g font-size="17.8px" text-anchor="end">
<text x="943.2" y="238.9">120</text>
<text x="943.2" y="261.8">110</text>
<text x="943.2" y="284.6">100</text>
<text x="943.2" y="307.4">90</text>
<text x="943.2" y="330.2">80</text>
<text x="943.2" y="353.1">70</text>
<text x="943.2" y="375.9">60</text>
<text x="943.2" y="398.7">50</text>
<text x="943.2" y="421.6">40</text>
<text x="943.2" y="444.4">30</text>
<text x="943.2" y="467.2">20</text>
<text x="943.2" y="490.1">10</text>
<text x="943.2" y="512.9">0</text>
<text x="943.2" y="535.7">-10</text>
<text x="943.2" y="558.5">-20</text>
<text x="943.2" y="581.4">-30</text>
<text x="943.2" y="604.2">-40</text>
<text x="943.2" y="627.0">-50</text>
<text x="943.2" y="649.9">-60</text>
<text x="943.2" y="672.7">-70</text>
<text x="943.2" y="695.5">-80</text>
<text x="943.2" y="718.4">-90</text>
<text x="943.2" y="741.2">-100</text>
<text x="943.2" y="764.0">-110</text>
<text x="943.2" y="786.9">-120</text>
</g>
</svg></body></html>
